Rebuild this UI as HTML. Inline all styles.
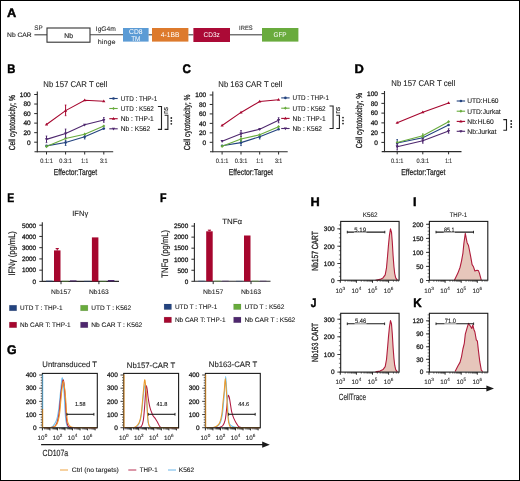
<!DOCTYPE html>
<html><head><meta charset="utf-8"><style>
html,body{margin:0;padding:0;background:#fff;}
#fig{position:relative;width:520px;height:481px;overflow:hidden;background:#fff;}
#fig svg{position:absolute;left:0;top:0;will-change:transform;filter:blur(0.3px);}
#frame{position:absolute;left:0;top:0;width:518px;height:479px;border:1px solid #000;}
text{font-family:"Liberation Sans", sans-serif;text-rendering:geometricPrecision;}
</style></head><body><div id="fig">
<svg width="520" height="481" viewBox="0 0 520 481" font-family='"Liberation Sans", sans-serif'>
<text transform="translate(6.91,16.70) scale(1.03,1)" x="0" y="0" font-size="12.4" font-weight="bold" fill="#000" stroke="#000" stroke-width="0.45">A</text>
<text x="7.1" y="37.1" font-size="6.5" text-anchor="start" fill="#262626" stroke="#262626" stroke-width="0.12" textLength="24.6" lengthAdjust="spacingAndGlyphs">Nb CAR</text>
<line x1="34.4" y1="34.8" x2="47" y2="34.8" stroke="#444" stroke-width="1.1"/>
<rect x="47" y="28" width="43" height="14.2" fill="#fff" stroke="#333" stroke-width="1.1"/>
<text x="68.6" y="37.5" font-size="6.9" text-anchor="middle" fill="#222" stroke="#222" stroke-width="0.15" textLength="8.6" lengthAdjust="spacingAndGlyphs">Nb</text>
<text x="34.2" y="30.4" font-size="6.6" text-anchor="start" fill="#2a2a2a" stroke="#2a2a2a" stroke-width="0.08" textLength="8.4" lengthAdjust="spacingAndGlyphs">SP</text>
<line x1="90" y1="34.8" x2="123" y2="34.8" stroke="#444" stroke-width="1.1"/>
<text x="95.8" y="30.5" font-size="6.6" text-anchor="start" fill="#2a2a2a" stroke="#2a2a2a" stroke-width="0.08" textLength="20" lengthAdjust="spacingAndGlyphs">IgG4m</text>
<text x="97.8" y="43.6" font-size="6.6" text-anchor="start" fill="#2a2a2a" stroke="#2a2a2a" stroke-width="0.08" textLength="17.6" lengthAdjust="spacingAndGlyphs">hinge</text>
<rect x="123" y="28" width="25.6" height="13.6" fill="#5b9bd5"/>
<text x="135.8" y="33.6" font-size="7.1" text-anchor="middle" fill="#fff" textLength="13.4" lengthAdjust="spacingAndGlyphs">CD8</text>
<text x="135.8" y="40.5" font-size="7.1" text-anchor="middle" fill="#fff" textLength="9.2" lengthAdjust="spacingAndGlyphs">TM</text>
<line x1="148.6" y1="34.8" x2="152" y2="34.8" stroke="#444" stroke-width="1.1"/>
<rect x="152" y="28" width="36.4" height="13.6" fill="#dd7a2c"/>
<text x="170.1" y="37.3" font-size="6.9" text-anchor="middle" fill="#fff" textLength="18.6" lengthAdjust="spacingAndGlyphs">4-1BB</text>
<line x1="188.4" y1="34.8" x2="193.4" y2="34.8" stroke="#444" stroke-width="1.1"/>
<rect x="193.4" y="28" width="36.6" height="14" fill="#ab0a36"/>
<text x="211.7" y="37.3" font-size="6.9" text-anchor="middle" fill="#fff" textLength="16.2" lengthAdjust="spacingAndGlyphs">CD3z</text>
<line x1="230" y1="34.8" x2="262" y2="34.8" stroke="#444" stroke-width="1.1"/>
<text x="239.1" y="30.4" font-size="6.3" text-anchor="start" fill="#2a2a2a" stroke="#2a2a2a" stroke-width="0.08" textLength="13.6" lengthAdjust="spacingAndGlyphs">IRES</text>
<rect x="262" y="28" width="36.4" height="13.6" fill="#69ab3d"/>
<text x="280" y="37.3" font-size="6.9" text-anchor="middle" fill="#fff" textLength="13.2" lengthAdjust="spacingAndGlyphs">GFP</text>
<text transform="translate(7.29,72.70) scale(0.91,1)" x="0" y="0" font-size="12.4" font-weight="bold" fill="#000" stroke="#000" stroke-width="0.45">B</text>
<text transform="translate(182.56,72.60) scale(0.94,1)" x="0" y="0" font-size="12.4" font-weight="bold" fill="#000" stroke="#000" stroke-width="0.45">C</text>
<text transform="translate(354.49,72.50) scale(1.04,1)" x="0" y="0" font-size="12.4" font-weight="bold" fill="#000" stroke="#000" stroke-width="0.45">D</text>
<text x="43.3" y="87" font-size="8.4" text-anchor="start" fill="#1a1a1a" stroke="#1a1a1a" stroke-width="0.1" textLength="64" lengthAdjust="spacingAndGlyphs">Nb 157 CAR T cell</text>
<line x1="37.3" y1="91.5" x2="37.3" y2="152.3" stroke="#2a2a2a" stroke-width="1.1"/>
<line x1="34.5" y1="151.8" x2="113.2" y2="151.8" stroke="#2a2a2a" stroke-width="1.1"/>
<line x1="34.2" y1="142.2" x2="37.3" y2="142.2" stroke="#2a2a2a" stroke-width="1"/>
<text x="30.7" y="144.5" font-size="6.5" text-anchor="end" fill="#1e1e1e" stroke="#1e1e1e" stroke-width="0.3">0</text>
<line x1="34.2" y1="132.66" x2="37.3" y2="132.66" stroke="#2a2a2a" stroke-width="1"/>
<text x="30.7" y="134.96" font-size="6.5" text-anchor="end" fill="#1e1e1e" stroke="#1e1e1e" stroke-width="0.3">20</text>
<line x1="34.2" y1="123.12" x2="37.3" y2="123.12" stroke="#2a2a2a" stroke-width="1"/>
<text x="30.7" y="125.42" font-size="6.5" text-anchor="end" fill="#1e1e1e" stroke="#1e1e1e" stroke-width="0.3">40</text>
<line x1="34.2" y1="113.58" x2="37.3" y2="113.58" stroke="#2a2a2a" stroke-width="1"/>
<text x="30.7" y="115.88" font-size="6.5" text-anchor="end" fill="#1e1e1e" stroke="#1e1e1e" stroke-width="0.3">60</text>
<line x1="34.2" y1="104.04" x2="37.3" y2="104.04" stroke="#2a2a2a" stroke-width="1"/>
<text x="30.7" y="106.34" font-size="6.5" text-anchor="end" fill="#1e1e1e" stroke="#1e1e1e" stroke-width="0.3">80</text>
<line x1="34.2" y1="94.5" x2="37.3" y2="94.5" stroke="#2a2a2a" stroke-width="1"/>
<text x="30.7" y="96.8" font-size="6.5" text-anchor="end" fill="#1e1e1e" stroke="#1e1e1e" stroke-width="0.3">100</text>
<line x1="46.5" y1="151.8" x2="46.5" y2="154.5" stroke="#2a2a2a" stroke-width="1"/>
<text x="46.5" y="162.7" font-size="6.5" text-anchor="middle" fill="#2a2a2a" stroke="#2a2a2a" stroke-width="0.12" textLength="12.6" lengthAdjust="spacingAndGlyphs">0.1:1</text>
<line x1="65.6" y1="151.8" x2="65.6" y2="154.5" stroke="#2a2a2a" stroke-width="1"/>
<text x="65.6" y="162.7" font-size="6.5" text-anchor="middle" fill="#2a2a2a" stroke="#2a2a2a" stroke-width="0.12" textLength="12.6" lengthAdjust="spacingAndGlyphs">0.3:1</text>
<line x1="84.7" y1="151.8" x2="84.7" y2="154.5" stroke="#2a2a2a" stroke-width="1"/>
<text x="84.7" y="162.7" font-size="6.5" text-anchor="middle" fill="#2a2a2a" stroke="#2a2a2a" stroke-width="0.12" textLength="6.9" lengthAdjust="spacingAndGlyphs">1:1</text>
<line x1="103.8" y1="151.8" x2="103.8" y2="154.5" stroke="#2a2a2a" stroke-width="1"/>
<text x="103.8" y="162.7" font-size="6.5" text-anchor="middle" fill="#2a2a2a" stroke="#2a2a2a" stroke-width="0.12" textLength="7.4" lengthAdjust="spacingAndGlyphs">3:1</text>
<text transform="translate(14.6,122.75) rotate(-90)" x="0" y="0" font-size="8.7" text-anchor="middle" fill="#1e1e1e" stroke="#1e1e1e" stroke-width="0.3" textLength="55.1" lengthAdjust="spacingAndGlyphs">Cell cytotoxicity; %</text>
<text x="75.5" y="174.9" font-size="8.6" text-anchor="middle" fill="#222" stroke="#222" stroke-width="0.25" textLength="43.4" lengthAdjust="spacingAndGlyphs">Effector:Target</text>
<polyline points="46.5,145.9 65.6,142.5 84.7,136.8 103.8,128.6" fill="none" stroke="#23437f" stroke-width="1.1"/>
<line x1="65.6" y1="140.5" x2="65.6" y2="145.5" stroke="#23437f" stroke-width="1"/>
<line x1="64.8" y1="140.5" x2="66.4" y2="140.5" stroke="#23437f" stroke-width="0.8"/>
<line x1="64.8" y1="145.5" x2="66.4" y2="145.5" stroke="#23437f" stroke-width="0.8"/>
<line x1="84.7" y1="134.6" x2="84.7" y2="139" stroke="#23437f" stroke-width="1"/>
<line x1="83.9" y1="134.6" x2="85.5" y2="134.6" stroke="#23437f" stroke-width="0.8"/>
<line x1="83.9" y1="139" x2="85.5" y2="139" stroke="#23437f" stroke-width="0.8"/>
<circle cx="46.5" cy="145.9" r="1.3" fill="#23437f"/>
<circle cx="65.6" cy="142.5" r="1.3" fill="#23437f"/>
<circle cx="84.7" cy="136.8" r="1.3" fill="#23437f"/>
<circle cx="103.8" cy="128.6" r="1.3" fill="#23437f"/>
<polyline points="46.5,146.6 65.6,138.5 84.7,134.2 103.8,126" fill="none" stroke="#68ab3c" stroke-width="1.1"/>
<path d="M46.5 145.0L48.0 146.6L46.5 148.2L45.0 146.6Z" fill="#68ab3c"/>
<path d="M65.6 136.9L67.1 138.5L65.6 140.1L64.1 138.5Z" fill="#68ab3c"/>
<path d="M84.7 132.6L86.2 134.2L84.7 135.8L83.2 134.2Z" fill="#68ab3c"/>
<path d="M103.8 124.4L105.3 126L103.8 127.6L102.3 126Z" fill="#68ab3c"/>
<polyline points="46.5,124.5 65.6,110.6 84.7,100.2 103.8,101.2" fill="none" stroke="#a6062e" stroke-width="1.1"/>
<line x1="65.6" y1="105" x2="65.6" y2="115.7" stroke="#a6062e" stroke-width="1"/>
<line x1="64.8" y1="105" x2="66.4" y2="105" stroke="#a6062e" stroke-width="0.8"/>
<line x1="64.8" y1="115.7" x2="66.4" y2="115.7" stroke="#a6062e" stroke-width="0.8"/>
<path d="M46.5 122.8L48.1 125.6L44.9 125.6Z" fill="#a6062e"/>
<path d="M65.6 108.9L67.2 111.7L64 111.7Z" fill="#a6062e"/>
<path d="M84.7 98.5L86.3 101.3L83.1 101.3Z" fill="#a6062e"/>
<path d="M103.8 99.5L105.4 102.3L102.2 102.3Z" fill="#a6062e"/>
<polyline points="46.5,139.4 65.6,133.5 84.7,124.8 103.8,120" fill="none" stroke="#4e276e" stroke-width="1.1"/>
<line x1="46.5" y1="136" x2="46.5" y2="142.6" stroke="#4e276e" stroke-width="1"/>
<line x1="45.7" y1="136" x2="47.3" y2="136" stroke="#4e276e" stroke-width="0.8"/>
<line x1="45.7" y1="142.6" x2="47.3" y2="142.6" stroke="#4e276e" stroke-width="0.8"/>
<line x1="65.6" y1="129" x2="65.6" y2="137.4" stroke="#4e276e" stroke-width="1"/>
<line x1="64.8" y1="129" x2="66.4" y2="129" stroke="#4e276e" stroke-width="0.8"/>
<line x1="64.8" y1="137.4" x2="66.4" y2="137.4" stroke="#4e276e" stroke-width="0.8"/>
<line x1="103.8" y1="117.5" x2="103.8" y2="122.3" stroke="#4e276e" stroke-width="1"/>
<line x1="103.0" y1="117.5" x2="104.6" y2="117.5" stroke="#4e276e" stroke-width="0.8"/>
<line x1="103.0" y1="122.3" x2="104.6" y2="122.3" stroke="#4e276e" stroke-width="0.8"/>
<path d="M46.5 141.1L48.1 138.3L44.9 138.3Z" fill="#4e276e"/>
<path d="M65.6 135.2L67.2 132.4L64 132.4Z" fill="#4e276e"/>
<path d="M84.7 126.5L86.3 123.7L83.1 123.7Z" fill="#4e276e"/>
<path d="M103.8 121.7L105.4 118.9L102.2 118.9Z" fill="#4e276e"/>
<line x1="109.3" y1="98.5" x2="117.7" y2="98.5" stroke="#23437f" stroke-width="1.1"/>
<circle cx="113.5" cy="98.5" r="1.3" fill="#23437f"/>
<text x="120.8" y="100.8" font-size="6.9" text-anchor="start" fill="#1a1a1a" stroke="#1a1a1a" stroke-width="0.1" textLength="36.4" lengthAdjust="spacingAndGlyphs">UTD : THP-1</text>
<line x1="109.3" y1="108.5" x2="117.7" y2="108.5" stroke="#68ab3c" stroke-width="1.1"/>
<path d="M113.5 106.9L115.0 108.5L113.5 110.1L112.0 108.5Z" fill="#68ab3c"/>
<text x="120.8" y="110.8" font-size="6.9" text-anchor="start" fill="#1a1a1a" stroke="#1a1a1a" stroke-width="0.1" textLength="33" lengthAdjust="spacingAndGlyphs">UTD : K562</text>
<line x1="109.3" y1="118.7" x2="117.7" y2="118.7" stroke="#a6062e" stroke-width="1.1"/>
<path d="M113.5 117.0L115.1 119.8L111.9 119.8Z" fill="#a6062e"/>
<text x="120.8" y="121.0" font-size="6.9" text-anchor="start" fill="#1a1a1a" stroke="#1a1a1a" stroke-width="0.1" textLength="33" lengthAdjust="spacingAndGlyphs">Nb : THP-1</text>
<line x1="109.3" y1="128.8" x2="117.7" y2="128.8" stroke="#4e276e" stroke-width="1.1"/>
<path d="M113.5 130.5L115.1 127.7L111.9 127.7Z" fill="#4e276e"/>
<text x="120.8" y="131.1" font-size="6.9" text-anchor="start" fill="#1a1a1a" stroke="#1a1a1a" stroke-width="0.1" textLength="29.4" lengthAdjust="spacingAndGlyphs">Nb : K562</text>
<path d="M157.9 106.5H161.5V129.4H157.9" fill="none" stroke="#222" stroke-width="1.1"/>
<path d="M164.6 115.3H167.9V129.4H164.6" fill="none" stroke="#222" stroke-width="1.1"/>
<text transform="translate(168.1,110.4) rotate(-90)" x="0" y="0" font-size="7.4" text-anchor="middle" fill="#2a2a2a" stroke="#2a2a2a" stroke-width="0.15" textLength="6.6" lengthAdjust="spacingAndGlyphs">ns</text>
<circle cx="171.3" cy="118.0" r="0.9" fill="#222"/>
<circle cx="171.3" cy="120.9" r="0.9" fill="#222"/>
<circle cx="171.3" cy="123.8" r="0.9" fill="#222"/>
<text x="218.3" y="87.4" font-size="8.4" text-anchor="start" fill="#1a1a1a" stroke="#1a1a1a" stroke-width="0.1" textLength="64" lengthAdjust="spacingAndGlyphs">Nb 163 CAR T cell</text>
<line x1="212.8" y1="91.5" x2="212.8" y2="152.3" stroke="#2a2a2a" stroke-width="1.1"/>
<line x1="210.0" y1="151.8" x2="287.7" y2="151.8" stroke="#2a2a2a" stroke-width="1.1"/>
<line x1="209.7" y1="142.3" x2="212.8" y2="142.3" stroke="#2a2a2a" stroke-width="1"/>
<text x="206.2" y="144.6" font-size="6.5" text-anchor="end" fill="#1e1e1e" stroke="#1e1e1e" stroke-width="0.3">0</text>
<line x1="209.7" y1="132.84" x2="212.8" y2="132.84" stroke="#2a2a2a" stroke-width="1"/>
<text x="206.2" y="135.14" font-size="6.5" text-anchor="end" fill="#1e1e1e" stroke="#1e1e1e" stroke-width="0.3">20</text>
<line x1="209.7" y1="123.38" x2="212.8" y2="123.38" stroke="#2a2a2a" stroke-width="1"/>
<text x="206.2" y="125.68" font-size="6.5" text-anchor="end" fill="#1e1e1e" stroke="#1e1e1e" stroke-width="0.3">40</text>
<line x1="209.7" y1="113.92" x2="212.8" y2="113.92" stroke="#2a2a2a" stroke-width="1"/>
<text x="206.2" y="116.22" font-size="6.5" text-anchor="end" fill="#1e1e1e" stroke="#1e1e1e" stroke-width="0.3">60</text>
<line x1="209.7" y1="104.46" x2="212.8" y2="104.46" stroke="#2a2a2a" stroke-width="1"/>
<text x="206.2" y="106.76" font-size="6.5" text-anchor="end" fill="#1e1e1e" stroke="#1e1e1e" stroke-width="0.3">80</text>
<line x1="209.7" y1="95.0" x2="212.8" y2="95.0" stroke="#2a2a2a" stroke-width="1"/>
<text x="206.2" y="97.3" font-size="6.5" text-anchor="end" fill="#1e1e1e" stroke="#1e1e1e" stroke-width="0.3">100</text>
<line x1="222.1" y1="151.8" x2="222.1" y2="154.5" stroke="#2a2a2a" stroke-width="1"/>
<text x="222.1" y="162.7" font-size="6.5" text-anchor="middle" fill="#2a2a2a" stroke="#2a2a2a" stroke-width="0.12" textLength="12.6" lengthAdjust="spacingAndGlyphs">0.1:1</text>
<line x1="241.0" y1="151.8" x2="241.0" y2="154.5" stroke="#2a2a2a" stroke-width="1"/>
<text x="241.0" y="162.7" font-size="6.5" text-anchor="middle" fill="#2a2a2a" stroke="#2a2a2a" stroke-width="0.12" textLength="12.6" lengthAdjust="spacingAndGlyphs">0.3:1</text>
<line x1="259.7" y1="151.8" x2="259.7" y2="154.5" stroke="#2a2a2a" stroke-width="1"/>
<text x="259.7" y="162.7" font-size="6.5" text-anchor="middle" fill="#2a2a2a" stroke="#2a2a2a" stroke-width="0.12" textLength="6.9" lengthAdjust="spacingAndGlyphs">1:1</text>
<line x1="278.6" y1="151.8" x2="278.6" y2="154.5" stroke="#2a2a2a" stroke-width="1"/>
<text x="278.6" y="162.7" font-size="6.5" text-anchor="middle" fill="#2a2a2a" stroke="#2a2a2a" stroke-width="0.12" textLength="7.4" lengthAdjust="spacingAndGlyphs">3:1</text>
<text transform="translate(190.2,122.4) rotate(-90)" x="0" y="0" font-size="8.7" text-anchor="middle" fill="#1e1e1e" stroke="#1e1e1e" stroke-width="0.3" textLength="55.8" lengthAdjust="spacingAndGlyphs">Cell cytotoxicity; %</text>
<text x="250.85" y="175.2" font-size="8.6" text-anchor="middle" fill="#222" stroke="#222" stroke-width="0.25" textLength="44.1" lengthAdjust="spacingAndGlyphs">Effector:Target</text>
<polyline points="222.1,145.7 241.0,142.6 259.7,136.7 278.6,129.2" fill="none" stroke="#23437f" stroke-width="1.1"/>
<line x1="241.0" y1="140.5" x2="241.0" y2="145.6" stroke="#23437f" stroke-width="1"/>
<line x1="240.2" y1="140.5" x2="241.8" y2="140.5" stroke="#23437f" stroke-width="0.8"/>
<line x1="240.2" y1="145.6" x2="241.8" y2="145.6" stroke="#23437f" stroke-width="0.8"/>
<line x1="259.7" y1="134.5" x2="259.7" y2="139" stroke="#23437f" stroke-width="1"/>
<line x1="258.9" y1="134.5" x2="260.5" y2="134.5" stroke="#23437f" stroke-width="0.8"/>
<line x1="258.9" y1="139" x2="260.5" y2="139" stroke="#23437f" stroke-width="0.8"/>
<circle cx="222.1" cy="145.7" r="1.3" fill="#23437f"/>
<circle cx="241.0" cy="142.6" r="1.3" fill="#23437f"/>
<circle cx="259.7" cy="136.7" r="1.3" fill="#23437f"/>
<circle cx="278.6" cy="129.2" r="1.3" fill="#23437f"/>
<polyline points="222.1,146.3 241.0,139 259.7,134.8 278.6,126.7" fill="none" stroke="#68ab3c" stroke-width="1.1"/>
<line x1="241.0" y1="136.6" x2="241.0" y2="141.4" stroke="#68ab3c" stroke-width="1"/>
<line x1="240.2" y1="136.6" x2="241.8" y2="136.6" stroke="#68ab3c" stroke-width="0.8"/>
<line x1="240.2" y1="141.4" x2="241.8" y2="141.4" stroke="#68ab3c" stroke-width="0.8"/>
<path d="M222.1 144.7L223.6 146.3L222.1 147.9L220.6 146.3Z" fill="#68ab3c"/>
<path d="M241.0 137.4L242.5 139L241.0 140.6L239.5 139Z" fill="#68ab3c"/>
<path d="M259.7 133.2L261.2 134.8L259.7 136.4L258.2 134.8Z" fill="#68ab3c"/>
<path d="M278.6 125.1L280.1 126.7L278.6 128.3L277.1 126.7Z" fill="#68ab3c"/>
<polyline points="222.1,125.5 241.0,112.4 259.7,101.5 278.6,99.7" fill="none" stroke="#a6062e" stroke-width="1.1"/>
<path d="M222.1 123.8L223.7 126.6L220.5 126.6Z" fill="#a6062e"/>
<path d="M241.0 110.7L242.6 113.5L239.4 113.5Z" fill="#a6062e"/>
<path d="M259.7 99.8L261.3 102.6L258.1 102.6Z" fill="#a6062e"/>
<path d="M278.6 98.0L280.2 100.8L277.0 100.8Z" fill="#a6062e"/>
<polyline points="222.1,141.2 241.0,133.7 259.7,129.2 278.6,120.2" fill="none" stroke="#4e276e" stroke-width="1.1"/>
<line x1="241.0" y1="130.5" x2="241.0" y2="136.5" stroke="#4e276e" stroke-width="1"/>
<line x1="240.2" y1="130.5" x2="241.8" y2="130.5" stroke="#4e276e" stroke-width="0.8"/>
<line x1="240.2" y1="136.5" x2="241.8" y2="136.5" stroke="#4e276e" stroke-width="0.8"/>
<line x1="278.6" y1="117.7" x2="278.6" y2="122.8" stroke="#4e276e" stroke-width="1"/>
<line x1="277.8" y1="117.7" x2="279.4" y2="117.7" stroke="#4e276e" stroke-width="0.8"/>
<line x1="277.8" y1="122.8" x2="279.4" y2="122.8" stroke="#4e276e" stroke-width="0.8"/>
<path d="M222.1 142.9L223.7 140.1L220.5 140.1Z" fill="#4e276e"/>
<path d="M241.0 135.4L242.6 132.6L239.4 132.6Z" fill="#4e276e"/>
<path d="M259.7 130.9L261.3 128.1L258.1 128.1Z" fill="#4e276e"/>
<path d="M278.6 121.9L280.2 119.1L277.0 119.1Z" fill="#4e276e"/>
<line x1="281.2" y1="97.9" x2="289.6" y2="97.9" stroke="#23437f" stroke-width="1.1"/>
<circle cx="285.4" cy="97.9" r="1.3" fill="#23437f"/>
<text x="292.6" y="100.2" font-size="6.9" text-anchor="start" fill="#1a1a1a" stroke="#1a1a1a" stroke-width="0.1" textLength="36.4" lengthAdjust="spacingAndGlyphs">UTD : THP-1</text>
<line x1="281.2" y1="108.2" x2="289.6" y2="108.2" stroke="#68ab3c" stroke-width="1.1"/>
<path d="M285.4 106.6L286.9 108.2L285.4 109.8L283.9 108.2Z" fill="#68ab3c"/>
<text x="292.6" y="110.5" font-size="6.9" text-anchor="start" fill="#1a1a1a" stroke="#1a1a1a" stroke-width="0.1" textLength="33" lengthAdjust="spacingAndGlyphs">UTD : K562</text>
<line x1="281.2" y1="118.4" x2="289.6" y2="118.4" stroke="#a6062e" stroke-width="1.1"/>
<path d="M285.4 116.7L287.0 119.5L283.8 119.5Z" fill="#a6062e"/>
<text x="292.6" y="120.7" font-size="6.9" text-anchor="start" fill="#1a1a1a" stroke="#1a1a1a" stroke-width="0.1" textLength="33" lengthAdjust="spacingAndGlyphs">Nb : THP-1</text>
<line x1="281.2" y1="128.5" x2="289.6" y2="128.5" stroke="#4e276e" stroke-width="1.1"/>
<path d="M285.4 130.2L287.0 127.4L283.8 127.4Z" fill="#4e276e"/>
<text x="292.6" y="130.8" font-size="6.9" text-anchor="start" fill="#1a1a1a" stroke="#1a1a1a" stroke-width="0.1" textLength="29.4" lengthAdjust="spacingAndGlyphs">Nb : K562</text>
<path d="M329.5 106H333.1V128.5H329.5" fill="none" stroke="#222" stroke-width="1.1"/>
<path d="M336.3 115.2H339.4V128.5H336.3" fill="none" stroke="#222" stroke-width="1.1"/>
<text transform="translate(339.6,110.2) rotate(-90)" x="0" y="0" font-size="7.4" text-anchor="middle" fill="#2a2a2a" stroke="#2a2a2a" stroke-width="0.15" textLength="6.6" lengthAdjust="spacingAndGlyphs">ns</text>
<circle cx="343" cy="117.6" r="0.9" fill="#222"/>
<circle cx="343" cy="120.6" r="0.9" fill="#222"/>
<circle cx="343" cy="123.6" r="0.9" fill="#222"/>
<text x="391.3" y="86.2" font-size="8.4" text-anchor="start" fill="#1a1a1a" stroke="#1a1a1a" stroke-width="0.1" textLength="64" lengthAdjust="spacingAndGlyphs">Nb 157 CAR T cell</text>
<line x1="384.5" y1="91.0" x2="384.5" y2="152.1" stroke="#2a2a2a" stroke-width="1.1"/>
<line x1="381.7" y1="151.6" x2="461.5" y2="151.6" stroke="#2a2a2a" stroke-width="1.1"/>
<line x1="381.4" y1="142.4" x2="384.5" y2="142.4" stroke="#2a2a2a" stroke-width="1"/>
<text x="377.9" y="144.7" font-size="6.5" text-anchor="end" fill="#1e1e1e" stroke="#1e1e1e" stroke-width="0.3">0</text>
<line x1="381.4" y1="132.64" x2="384.5" y2="132.64" stroke="#2a2a2a" stroke-width="1"/>
<text x="377.9" y="134.94" font-size="6.5" text-anchor="end" fill="#1e1e1e" stroke="#1e1e1e" stroke-width="0.3">20</text>
<line x1="381.4" y1="122.88" x2="384.5" y2="122.88" stroke="#2a2a2a" stroke-width="1"/>
<text x="377.9" y="125.18" font-size="6.5" text-anchor="end" fill="#1e1e1e" stroke="#1e1e1e" stroke-width="0.3">40</text>
<line x1="381.4" y1="113.12" x2="384.5" y2="113.12" stroke="#2a2a2a" stroke-width="1"/>
<text x="377.9" y="115.42" font-size="6.5" text-anchor="end" fill="#1e1e1e" stroke="#1e1e1e" stroke-width="0.3">60</text>
<line x1="381.4" y1="103.36" x2="384.5" y2="103.36" stroke="#2a2a2a" stroke-width="1"/>
<text x="377.9" y="105.66" font-size="6.5" text-anchor="end" fill="#1e1e1e" stroke="#1e1e1e" stroke-width="0.3">80</text>
<line x1="381.4" y1="93.6" x2="384.5" y2="93.6" stroke="#2a2a2a" stroke-width="1"/>
<text x="377.9" y="95.9" font-size="6.5" text-anchor="end" fill="#1e1e1e" stroke="#1e1e1e" stroke-width="0.3">100</text>
<line x1="397.2" y1="151.6" x2="397.2" y2="154.3" stroke="#2a2a2a" stroke-width="1"/>
<text x="397.2" y="162.5" font-size="6.5" text-anchor="middle" fill="#2a2a2a" stroke="#2a2a2a" stroke-width="0.12" textLength="12.6" lengthAdjust="spacingAndGlyphs">0.1:1</text>
<line x1="422.8" y1="151.6" x2="422.8" y2="154.3" stroke="#2a2a2a" stroke-width="1"/>
<text x="422.8" y="162.5" font-size="6.5" text-anchor="middle" fill="#2a2a2a" stroke="#2a2a2a" stroke-width="0.12" textLength="12.6" lengthAdjust="spacingAndGlyphs">0.3:1</text>
<line x1="448.6" y1="151.6" x2="448.6" y2="154.3" stroke="#2a2a2a" stroke-width="1"/>
<text x="448.6" y="162.5" font-size="6.5" text-anchor="middle" fill="#2a2a2a" stroke="#2a2a2a" stroke-width="0.12" textLength="6.9" lengthAdjust="spacingAndGlyphs">1:1</text>
<text transform="translate(361.9,120.6) rotate(-90)" x="0" y="0" font-size="8.7" text-anchor="middle" fill="#1e1e1e" stroke="#1e1e1e" stroke-width="0.3" textLength="55.4" lengthAdjust="spacingAndGlyphs">Cell cytotoxicity; %</text>
<text x="423.35" y="175.2" font-size="8.6" text-anchor="middle" fill="#222" stroke="#222" stroke-width="0.25" textLength="44.1" lengthAdjust="spacingAndGlyphs">Effector:Target</text>
<polyline points="397.2,143 422.8,137.7 448.6,125" fill="none" stroke="#23437f" stroke-width="1.1"/>
<line x1="397.2" y1="139.5" x2="397.2" y2="146" stroke="#23437f" stroke-width="1"/>
<line x1="396.4" y1="139.5" x2="398.0" y2="139.5" stroke="#23437f" stroke-width="0.8"/>
<line x1="396.4" y1="146" x2="398.0" y2="146" stroke="#23437f" stroke-width="0.8"/>
<circle cx="397.2" cy="143" r="1.3" fill="#23437f"/>
<circle cx="422.8" cy="137.7" r="1.3" fill="#23437f"/>
<circle cx="448.6" cy="125" r="1.3" fill="#23437f"/>
<polyline points="397.2,142.5 422.8,135.8 448.6,121.7" fill="none" stroke="#68ab3c" stroke-width="1.1"/>
<line x1="422.8" y1="133.8" x2="422.8" y2="137.8" stroke="#68ab3c" stroke-width="1"/>
<line x1="422.0" y1="133.8" x2="423.6" y2="133.8" stroke="#68ab3c" stroke-width="0.8"/>
<line x1="422.0" y1="137.8" x2="423.6" y2="137.8" stroke="#68ab3c" stroke-width="0.8"/>
<path d="M397.2 140.9L398.7 142.5L397.2 144.1L395.7 142.5Z" fill="#68ab3c"/>
<path d="M422.8 134.2L424.3 135.8L422.8 137.4L421.3 135.8Z" fill="#68ab3c"/>
<path d="M448.6 120.1L450.1 121.7L448.6 123.3L447.1 121.7Z" fill="#68ab3c"/>
<polyline points="397.2,122.7 422.8,112.2 448.6,103" fill="none" stroke="#a6062e" stroke-width="1.1"/>
<path d="M397.2 121.0L398.8 123.8L395.6 123.8Z" fill="#a6062e"/>
<path d="M422.8 110.5L424.4 113.3L421.2 113.3Z" fill="#a6062e"/>
<path d="M448.6 101.3L450.2 104.1L447.0 104.1Z" fill="#a6062e"/>
<polyline points="397.2,146.7 422.8,140.7 448.6,131" fill="none" stroke="#4e276e" stroke-width="1.1"/>
<line x1="397.2" y1="143.5" x2="397.2" y2="150" stroke="#4e276e" stroke-width="1"/>
<line x1="396.4" y1="143.5" x2="398.0" y2="143.5" stroke="#4e276e" stroke-width="0.8"/>
<line x1="396.4" y1="150" x2="398.0" y2="150" stroke="#4e276e" stroke-width="0.8"/>
<line x1="422.8" y1="138.5" x2="422.8" y2="143.2" stroke="#4e276e" stroke-width="1"/>
<line x1="422.0" y1="138.5" x2="423.6" y2="138.5" stroke="#4e276e" stroke-width="0.8"/>
<line x1="422.0" y1="143.2" x2="423.6" y2="143.2" stroke="#4e276e" stroke-width="0.8"/>
<line x1="448.6" y1="128.7" x2="448.6" y2="133.2" stroke="#4e276e" stroke-width="1"/>
<line x1="447.8" y1="128.7" x2="449.4" y2="128.7" stroke="#4e276e" stroke-width="0.8"/>
<line x1="447.8" y1="133.2" x2="449.4" y2="133.2" stroke="#4e276e" stroke-width="0.8"/>
<path d="M397.2 148.4L398.8 145.6L395.6 145.6Z" fill="#4e276e"/>
<path d="M422.8 142.4L424.4 139.6L421.2 139.6Z" fill="#4e276e"/>
<path d="M448.6 132.7L450.2 129.9L447.0 129.9Z" fill="#4e276e"/>
<line x1="456.7" y1="101" x2="465.1" y2="101" stroke="#23437f" stroke-width="1.1"/>
<circle cx="460.9" cy="101" r="1.3" fill="#23437f"/>
<text x="467.3" y="103.3" font-size="6.9" text-anchor="start" fill="#1a1a1a" stroke="#1a1a1a" stroke-width="0.1" textLength="31.2" lengthAdjust="spacingAndGlyphs">UTD:HL60</text>
<line x1="456.7" y1="111.2" x2="465.1" y2="111.2" stroke="#68ab3c" stroke-width="1.1"/>
<path d="M460.9 109.6L462.4 111.2L460.9 112.8L459.4 111.2Z" fill="#68ab3c"/>
<text x="467.3" y="113.5" font-size="6.9" text-anchor="start" fill="#1a1a1a" stroke="#1a1a1a" stroke-width="0.1" textLength="33.4" lengthAdjust="spacingAndGlyphs">UTD:Jurkat</text>
<line x1="456.7" y1="121.4" x2="465.1" y2="121.4" stroke="#a6062e" stroke-width="1.1"/>
<path d="M460.9 119.7L462.5 122.5L459.3 122.5Z" fill="#a6062e"/>
<text x="467.3" y="123.7" font-size="6.9" text-anchor="start" fill="#1a1a1a" stroke="#1a1a1a" stroke-width="0.1" textLength="26.4" lengthAdjust="spacingAndGlyphs">Nb:HL60</text>
<line x1="456.7" y1="131.3" x2="465.1" y2="131.3" stroke="#4e276e" stroke-width="1.1"/>
<path d="M460.9 133.0L462.5 130.2L459.3 130.2Z" fill="#4e276e"/>
<text x="467.3" y="133.6" font-size="6.9" text-anchor="start" fill="#1a1a1a" stroke="#1a1a1a" stroke-width="0.1" textLength="29.2" lengthAdjust="spacingAndGlyphs">Nb:Jurkat</text>
<path d="M503.3 119.6H506.5V130.2H503.3" fill="none" stroke="#222" stroke-width="1.1"/>
<circle cx="511.2" cy="121.0" r="0.9" fill="#222"/>
<circle cx="511.2" cy="124.0" r="0.9" fill="#222"/>
<circle cx="511.2" cy="127.0" r="0.9" fill="#222"/>
<text transform="translate(7.34,202.10) scale(0.84,1)" x="0" y="0" font-size="12.4" font-weight="bold" fill="#000" stroke="#000" stroke-width="0.45">E</text>
<text transform="translate(159.93,202.10) scale(0.86,1)" x="0" y="0" font-size="12.4" font-weight="bold" fill="#000" stroke="#000" stroke-width="0.45">F</text>
<text x="80.2" y="215.7" font-size="7.6" text-anchor="middle" fill="#1a1a1a" stroke="#1a1a1a" stroke-width="0.1" textLength="15.9" lengthAdjust="spacingAndGlyphs">IFNγ</text>
<line x1="42.3" y1="222.2" x2="42.3" y2="281.9" stroke="#2a2a2a" stroke-width="1.1"/>
<line x1="42.3" y1="281.4" x2="119" y2="281.4" stroke="#2a2a2a" stroke-width="1.1"/>
<line x1="39.3" y1="281.4" x2="42.3" y2="281.4" stroke="#2a2a2a" stroke-width="1"/>
<text x="36.1" y="283.7" font-size="6.4" text-anchor="end" fill="#1e1e1e" stroke="#1e1e1e" stroke-width="0.28">0</text>
<line x1="39.3" y1="270.16" x2="42.3" y2="270.16" stroke="#2a2a2a" stroke-width="1"/>
<text x="36.1" y="272.46" font-size="6.4" text-anchor="end" fill="#1e1e1e" stroke="#1e1e1e" stroke-width="0.28">1000</text>
<line x1="39.3" y1="258.92" x2="42.3" y2="258.92" stroke="#2a2a2a" stroke-width="1"/>
<text x="36.1" y="261.22" font-size="6.4" text-anchor="end" fill="#1e1e1e" stroke="#1e1e1e" stroke-width="0.28">2000</text>
<line x1="39.3" y1="247.68" x2="42.3" y2="247.68" stroke="#2a2a2a" stroke-width="1"/>
<text x="36.1" y="249.98" font-size="6.4" text-anchor="end" fill="#1e1e1e" stroke="#1e1e1e" stroke-width="0.28">3000</text>
<line x1="39.3" y1="236.44" x2="42.3" y2="236.44" stroke="#2a2a2a" stroke-width="1"/>
<text x="36.1" y="238.74" font-size="6.4" text-anchor="end" fill="#1e1e1e" stroke="#1e1e1e" stroke-width="0.28">4000</text>
<line x1="39.3" y1="225.2" x2="42.3" y2="225.2" stroke="#2a2a2a" stroke-width="1"/>
<text x="36.1" y="227.5" font-size="6.4" text-anchor="end" fill="#1e1e1e" stroke="#1e1e1e" stroke-width="0.28">5000</text>
<line x1="61" y1="281.4" x2="61" y2="284.2" stroke="#2a2a2a" stroke-width="1"/>
<text x="61" y="293.6" font-size="6.6" text-anchor="middle" fill="#2a2a2a" stroke="#2a2a2a" stroke-width="0.1" textLength="19.8" lengthAdjust="spacingAndGlyphs">Nb157</text>
<rect x="46" y="280.7" width="6.5" height="0.7" fill="#23437f"/>
<rect x="54" y="250.4" width="6.5" height="31" fill="#a6062e"/>
<rect x="62" y="280.9" width="6.5" height="0.5" fill="#68ab3c"/>
<rect x="70" y="280.4" width="6.5" height="1.0" fill="#4e276e"/>
<line x1="57.25" y1="250.4" x2="57.25" y2="248.6" stroke="#a6062e" stroke-width="1.1"/>
<line x1="55.65" y1="248.6" x2="58.85" y2="248.6" stroke="#a6062e" stroke-width="1.1"/>
<line x1="98.9" y1="281.4" x2="98.9" y2="284.2" stroke="#2a2a2a" stroke-width="1"/>
<text x="98.9" y="293.6" font-size="6.6" text-anchor="middle" fill="#2a2a2a" stroke="#2a2a2a" stroke-width="0.1" textLength="19.8" lengthAdjust="spacingAndGlyphs">Nb163</text>
<rect x="83.9" y="280.9" width="6.5" height="0.5" fill="#23437f"/>
<rect x="91.9" y="237.4" width="6.5" height="44" fill="#a6062e"/>
<rect x="99.9" y="280.9" width="6.5" height="0.5" fill="#68ab3c"/>
<rect x="107.9" y="280.0" width="6.5" height="1.4" fill="#4e276e"/>
<text transform="translate(15.1,253.3) rotate(-90)" x="0" y="0" font-size="9.4" text-anchor="middle" fill="#222" stroke="#222" stroke-width="0.2" textLength="44.4" lengthAdjust="spacingAndGlyphs">IFNγ (pg/mL)</text>
<text x="232.2" y="224.4" font-size="7.6" text-anchor="middle" fill="#1a1a1a" stroke="#1a1a1a" stroke-width="0.1" textLength="19.9" lengthAdjust="spacingAndGlyphs">TNFα</text>
<line x1="194.4" y1="223.1" x2="194.4" y2="281.8" stroke="#2a2a2a" stroke-width="1.1"/>
<line x1="194.4" y1="281.3" x2="270.5" y2="281.3" stroke="#2a2a2a" stroke-width="1.1"/>
<line x1="191.4" y1="281.3" x2="194.4" y2="281.3" stroke="#2a2a2a" stroke-width="1"/>
<text x="188.2" y="283.6" font-size="6.4" text-anchor="end" fill="#1e1e1e" stroke="#1e1e1e" stroke-width="0.28">0</text>
<line x1="191.4" y1="270.26" x2="194.4" y2="270.26" stroke="#2a2a2a" stroke-width="1"/>
<text x="188.2" y="272.56" font-size="6.4" text-anchor="end" fill="#1e1e1e" stroke="#1e1e1e" stroke-width="0.28">500</text>
<line x1="191.4" y1="259.22" x2="194.4" y2="259.22" stroke="#2a2a2a" stroke-width="1"/>
<text x="188.2" y="261.52" font-size="6.4" text-anchor="end" fill="#1e1e1e" stroke="#1e1e1e" stroke-width="0.28">1000</text>
<line x1="191.4" y1="248.18" x2="194.4" y2="248.18" stroke="#2a2a2a" stroke-width="1"/>
<text x="188.2" y="250.48" font-size="6.4" text-anchor="end" fill="#1e1e1e" stroke="#1e1e1e" stroke-width="0.28">1500</text>
<line x1="191.4" y1="237.14" x2="194.4" y2="237.14" stroke="#2a2a2a" stroke-width="1"/>
<text x="188.2" y="239.44" font-size="6.4" text-anchor="end" fill="#1e1e1e" stroke="#1e1e1e" stroke-width="0.28">2000</text>
<line x1="191.4" y1="226.1" x2="194.4" y2="226.1" stroke="#2a2a2a" stroke-width="1"/>
<text x="188.2" y="228.4" font-size="6.4" text-anchor="end" fill="#1e1e1e" stroke="#1e1e1e" stroke-width="0.28">2500</text>
<line x1="213.2" y1="281.3" x2="213.2" y2="284.1" stroke="#2a2a2a" stroke-width="1"/>
<text x="213.2" y="293.5" font-size="6.6" text-anchor="middle" fill="#2a2a2a" stroke="#2a2a2a" stroke-width="0.1" textLength="20.2" lengthAdjust="spacingAndGlyphs">Nb157</text>
<rect x="198.2" y="280.8" width="6.5" height="0.5" fill="#23437f"/>
<rect x="206.2" y="231.3" width="6.5" height="50" fill="#a6062e"/>
<rect x="214.2" y="280.8" width="6.5" height="0.5" fill="#68ab3c"/>
<rect x="222.2" y="280.8" width="6.5" height="0.5" fill="#4e276e"/>
<line x1="209.45" y1="231.3" x2="209.45" y2="230.2" stroke="#a6062e" stroke-width="1.1"/>
<line x1="207.85" y1="230.2" x2="211.05" y2="230.2" stroke="#a6062e" stroke-width="1.1"/>
<line x1="251" y1="281.3" x2="251" y2="284.1" stroke="#2a2a2a" stroke-width="1"/>
<text x="251" y="293.5" font-size="6.6" text-anchor="middle" fill="#2a2a2a" stroke="#2a2a2a" stroke-width="0.1" textLength="20.2" lengthAdjust="spacingAndGlyphs">Nb163</text>
<rect x="236" y="280.9" width="6.5" height="0.4" fill="#23437f"/>
<rect x="244" y="235.5" width="6.5" height="45.8" fill="#a6062e"/>
<rect x="252" y="280.8" width="6.5" height="0.5" fill="#68ab3c"/>
<rect x="260" y="280.8" width="6.5" height="0.5" fill="#4e276e"/>
<text transform="translate(168,253.85) rotate(-90)" x="0" y="0" font-size="9.4" text-anchor="middle" fill="#222" stroke="#222" stroke-width="0.2" textLength="47.9" lengthAdjust="spacingAndGlyphs">TNFα (pg/mL)</text>
<rect x="9.3" y="305.2" width="7.4" height="5.6" fill="#23437f" stroke="#0002" stroke-width="0.6"/>
<text x="20.1" y="310.4" font-size="6.6" text-anchor="start" fill="#1a1a1a" stroke="#1a1a1a" stroke-width="0.1" textLength="42.4" lengthAdjust="spacingAndGlyphs">UTD T : THP-1</text>
<rect x="80.5" y="305.2" width="7.4" height="5.6" fill="#68ab3c" stroke="#0002" stroke-width="0.6"/>
<text x="91.3" y="310.4" font-size="6.6" text-anchor="start" fill="#1a1a1a" stroke="#1a1a1a" stroke-width="0.1" textLength="39.8" lengthAdjust="spacingAndGlyphs">UTD T : K562</text>
<rect x="9.3" y="322.1" width="7.4" height="5.6" fill="#a6062e" stroke="#0002" stroke-width="0.6"/>
<text x="20.1" y="327.3" font-size="6.6" text-anchor="start" fill="#1a1a1a" stroke="#1a1a1a" stroke-width="0.1" textLength="50.6" lengthAdjust="spacingAndGlyphs">Nb CAR T: THP-1</text>
<rect x="80.5" y="322.1" width="7.4" height="5.6" fill="#4e276e" stroke="#0002" stroke-width="0.6"/>
<text x="91.3" y="327.3" font-size="6.6" text-anchor="start" fill="#1a1a1a" stroke="#1a1a1a" stroke-width="0.1" textLength="51" lengthAdjust="spacingAndGlyphs">Nb CAR T : K562</text>
<rect x="164.1" y="304.0" width="7.4" height="5.6" fill="#23437f" stroke="#0002" stroke-width="0.6"/>
<text x="174.9" y="309.2" font-size="6.6" text-anchor="start" fill="#1a1a1a" stroke="#1a1a1a" stroke-width="0.1" textLength="42.4" lengthAdjust="spacingAndGlyphs">UTD T : THP-1</text>
<rect x="233.6" y="304.0" width="7.4" height="5.6" fill="#68ab3c" stroke="#0002" stroke-width="0.6"/>
<text x="244.4" y="309.2" font-size="6.6" text-anchor="start" fill="#1a1a1a" stroke="#1a1a1a" stroke-width="0.1" textLength="39.9" lengthAdjust="spacingAndGlyphs">UTD T : K562</text>
<rect x="164.1" y="317.1" width="7.4" height="5.6" fill="#a6062e" stroke="#0002" stroke-width="0.6"/>
<text x="174.9" y="322.3" font-size="6.6" text-anchor="start" fill="#1a1a1a" stroke="#1a1a1a" stroke-width="0.1" textLength="50.6" lengthAdjust="spacingAndGlyphs">Nb CAR T: THP-1</text>
<rect x="233.6" y="317.1" width="7.4" height="5.6" fill="#4e276e" stroke="#0002" stroke-width="0.6"/>
<text x="244.4" y="322.3" font-size="6.6" text-anchor="start" fill="#1a1a1a" stroke="#1a1a1a" stroke-width="0.1" textLength="50.9" lengthAdjust="spacingAndGlyphs">Nb CAR T : K562</text>
<text transform="translate(6.94,353.50) scale(0.99,1)" x="0" y="0" font-size="12.4" font-weight="bold" fill="#000" stroke="#000" stroke-width="0.45">G</text>
<text x="69.7" y="366.8" font-size="7.9" text-anchor="middle" fill="#1a1a1a" stroke="#1a1a1a" stroke-width="0.1" textLength="54.7" lengthAdjust="spacingAndGlyphs">Untransduced T</text>
<line x1="39.2" y1="427.7" x2="42.4" y2="427.7" stroke="#2a2a2a" stroke-width="0.9"/>
<text x="36.5" y="430.0" font-size="6.5" text-anchor="end" fill="#1e1e1e" stroke="#1e1e1e" stroke-width="0.28">0</text>
<line x1="39.2" y1="414.53" x2="42.4" y2="414.53" stroke="#2a2a2a" stroke-width="0.9"/>
<text x="36.5" y="416.83" font-size="6.5" text-anchor="end" fill="#1e1e1e" stroke="#1e1e1e" stroke-width="0.28">100</text>
<line x1="39.2" y1="401.36" x2="42.4" y2="401.36" stroke="#2a2a2a" stroke-width="0.9"/>
<text x="36.5" y="403.66" font-size="6.5" text-anchor="end" fill="#1e1e1e" stroke="#1e1e1e" stroke-width="0.28">200</text>
<line x1="39.2" y1="388.19" x2="42.4" y2="388.19" stroke="#2a2a2a" stroke-width="0.9"/>
<text x="36.5" y="390.49" font-size="6.5" text-anchor="end" fill="#1e1e1e" stroke="#1e1e1e" stroke-width="0.28">300</text>
<line x1="39.2" y1="375.02" x2="42.4" y2="375.02" stroke="#2a2a2a" stroke-width="0.9"/>
<text x="36.5" y="377.32" font-size="6.5" text-anchor="end" fill="#1e1e1e" stroke="#1e1e1e" stroke-width="0.28">400</text>
<line x1="40.7" y1="425.07" x2="42.4" y2="425.07" stroke="#2a2a2a" stroke-width="0.7"/>
<line x1="40.7" y1="422.43" x2="42.4" y2="422.43" stroke="#2a2a2a" stroke-width="0.7"/>
<line x1="40.7" y1="419.8" x2="42.4" y2="419.8" stroke="#2a2a2a" stroke-width="0.7"/>
<line x1="40.7" y1="417.16" x2="42.4" y2="417.16" stroke="#2a2a2a" stroke-width="0.7"/>
<line x1="40.7" y1="411.9" x2="42.4" y2="411.9" stroke="#2a2a2a" stroke-width="0.7"/>
<line x1="40.7" y1="409.26" x2="42.4" y2="409.26" stroke="#2a2a2a" stroke-width="0.7"/>
<line x1="40.7" y1="406.63" x2="42.4" y2="406.63" stroke="#2a2a2a" stroke-width="0.7"/>
<line x1="40.7" y1="403.99" x2="42.4" y2="403.99" stroke="#2a2a2a" stroke-width="0.7"/>
<line x1="40.7" y1="398.73" x2="42.4" y2="398.73" stroke="#2a2a2a" stroke-width="0.7"/>
<line x1="40.7" y1="396.09" x2="42.4" y2="396.09" stroke="#2a2a2a" stroke-width="0.7"/>
<line x1="40.7" y1="393.46" x2="42.4" y2="393.46" stroke="#2a2a2a" stroke-width="0.7"/>
<line x1="40.7" y1="390.82" x2="42.4" y2="390.82" stroke="#2a2a2a" stroke-width="0.7"/>
<line x1="40.7" y1="385.56" x2="42.4" y2="385.56" stroke="#2a2a2a" stroke-width="0.7"/>
<line x1="40.7" y1="382.92" x2="42.4" y2="382.92" stroke="#2a2a2a" stroke-width="0.7"/>
<line x1="40.7" y1="380.29" x2="42.4" y2="380.29" stroke="#2a2a2a" stroke-width="0.7"/>
<line x1="40.7" y1="377.65" x2="42.4" y2="377.65" stroke="#2a2a2a" stroke-width="0.7"/>
<line x1="42.4" y1="427.8" x2="42.4" y2="430.4" stroke="#2a2a2a" stroke-width="1.0"/>
<line x1="44.67" y1="427.8" x2="44.67" y2="429.4" stroke="#2a2a2a" stroke-width="0.8"/>
<line x1="45.99" y1="427.8" x2="45.99" y2="429.4" stroke="#2a2a2a" stroke-width="0.8"/>
<line x1="46.93" y1="427.8" x2="46.93" y2="429.4" stroke="#2a2a2a" stroke-width="0.8"/>
<line x1="47.66" y1="427.8" x2="47.66" y2="429.4" stroke="#2a2a2a" stroke-width="0.8"/>
<line x1="48.26" y1="427.8" x2="48.26" y2="429.4" stroke="#2a2a2a" stroke-width="0.8"/>
<line x1="48.76" y1="427.8" x2="48.76" y2="429.4" stroke="#2a2a2a" stroke-width="0.8"/>
<line x1="49.2" y1="427.8" x2="49.2" y2="429.4" stroke="#2a2a2a" stroke-width="0.8"/>
<line x1="49.59" y1="427.8" x2="49.59" y2="429.4" stroke="#2a2a2a" stroke-width="0.8"/>
<line x1="49.93" y1="427.8" x2="49.93" y2="430.4" stroke="#2a2a2a" stroke-width="1.0"/>
<line x1="52.2" y1="427.8" x2="52.2" y2="429.4" stroke="#2a2a2a" stroke-width="0.8"/>
<line x1="53.52" y1="427.8" x2="53.52" y2="429.4" stroke="#2a2a2a" stroke-width="0.8"/>
<line x1="54.46" y1="427.8" x2="54.46" y2="429.4" stroke="#2a2a2a" stroke-width="0.8"/>
<line x1="55.19" y1="427.8" x2="55.19" y2="429.4" stroke="#2a2a2a" stroke-width="0.8"/>
<line x1="55.79" y1="427.8" x2="55.79" y2="429.4" stroke="#2a2a2a" stroke-width="0.8"/>
<line x1="56.29" y1="427.8" x2="56.29" y2="429.4" stroke="#2a2a2a" stroke-width="0.8"/>
<line x1="56.73" y1="427.8" x2="56.73" y2="429.4" stroke="#2a2a2a" stroke-width="0.8"/>
<line x1="57.12" y1="427.8" x2="57.12" y2="429.4" stroke="#2a2a2a" stroke-width="0.8"/>
<line x1="57.46" y1="427.8" x2="57.46" y2="430.4" stroke="#2a2a2a" stroke-width="1.0"/>
<line x1="59.73" y1="427.8" x2="59.73" y2="429.4" stroke="#2a2a2a" stroke-width="0.8"/>
<line x1="61.05" y1="427.8" x2="61.05" y2="429.4" stroke="#2a2a2a" stroke-width="0.8"/>
<line x1="61.99" y1="427.8" x2="61.99" y2="429.4" stroke="#2a2a2a" stroke-width="0.8"/>
<line x1="62.72" y1="427.8" x2="62.72" y2="429.4" stroke="#2a2a2a" stroke-width="0.8"/>
<line x1="63.32" y1="427.8" x2="63.32" y2="429.4" stroke="#2a2a2a" stroke-width="0.8"/>
<line x1="63.82" y1="427.8" x2="63.82" y2="429.4" stroke="#2a2a2a" stroke-width="0.8"/>
<line x1="64.26" y1="427.8" x2="64.26" y2="429.4" stroke="#2a2a2a" stroke-width="0.8"/>
<line x1="64.65" y1="427.8" x2="64.65" y2="429.4" stroke="#2a2a2a" stroke-width="0.8"/>
<line x1="64.99" y1="427.8" x2="64.99" y2="430.4" stroke="#2a2a2a" stroke-width="1.0"/>
<line x1="67.26" y1="427.8" x2="67.26" y2="429.4" stroke="#2a2a2a" stroke-width="0.8"/>
<line x1="68.58" y1="427.8" x2="68.58" y2="429.4" stroke="#2a2a2a" stroke-width="0.8"/>
<line x1="69.52" y1="427.8" x2="69.52" y2="429.4" stroke="#2a2a2a" stroke-width="0.8"/>
<line x1="70.25" y1="427.8" x2="70.25" y2="429.4" stroke="#2a2a2a" stroke-width="0.8"/>
<line x1="70.85" y1="427.8" x2="70.85" y2="429.4" stroke="#2a2a2a" stroke-width="0.8"/>
<line x1="71.35" y1="427.8" x2="71.35" y2="429.4" stroke="#2a2a2a" stroke-width="0.8"/>
<line x1="71.79" y1="427.8" x2="71.79" y2="429.4" stroke="#2a2a2a" stroke-width="0.8"/>
<line x1="72.18" y1="427.8" x2="72.18" y2="429.4" stroke="#2a2a2a" stroke-width="0.8"/>
<line x1="72.52" y1="427.8" x2="72.52" y2="430.4" stroke="#2a2a2a" stroke-width="1.0"/>
<line x1="74.79" y1="427.8" x2="74.79" y2="429.4" stroke="#2a2a2a" stroke-width="0.8"/>
<line x1="76.11" y1="427.8" x2="76.11" y2="429.4" stroke="#2a2a2a" stroke-width="0.8"/>
<line x1="77.05" y1="427.8" x2="77.05" y2="429.4" stroke="#2a2a2a" stroke-width="0.8"/>
<line x1="77.78" y1="427.8" x2="77.78" y2="429.4" stroke="#2a2a2a" stroke-width="0.8"/>
<line x1="78.38" y1="427.8" x2="78.38" y2="429.4" stroke="#2a2a2a" stroke-width="0.8"/>
<line x1="78.88" y1="427.8" x2="78.88" y2="429.4" stroke="#2a2a2a" stroke-width="0.8"/>
<line x1="79.32" y1="427.8" x2="79.32" y2="429.4" stroke="#2a2a2a" stroke-width="0.8"/>
<line x1="79.71" y1="427.8" x2="79.71" y2="429.4" stroke="#2a2a2a" stroke-width="0.8"/>
<line x1="80.05" y1="427.8" x2="80.05" y2="430.4" stroke="#2a2a2a" stroke-width="1.0"/>
<line x1="82.32" y1="427.8" x2="82.32" y2="429.4" stroke="#2a2a2a" stroke-width="0.8"/>
<line x1="83.64" y1="427.8" x2="83.64" y2="429.4" stroke="#2a2a2a" stroke-width="0.8"/>
<line x1="84.58" y1="427.8" x2="84.58" y2="429.4" stroke="#2a2a2a" stroke-width="0.8"/>
<line x1="85.31" y1="427.8" x2="85.31" y2="429.4" stroke="#2a2a2a" stroke-width="0.8"/>
<line x1="85.91" y1="427.8" x2="85.91" y2="429.4" stroke="#2a2a2a" stroke-width="0.8"/>
<line x1="86.41" y1="427.8" x2="86.41" y2="429.4" stroke="#2a2a2a" stroke-width="0.8"/>
<line x1="86.85" y1="427.8" x2="86.85" y2="429.4" stroke="#2a2a2a" stroke-width="0.8"/>
<line x1="87.24" y1="427.8" x2="87.24" y2="429.4" stroke="#2a2a2a" stroke-width="0.8"/>
<line x1="87.58" y1="427.8" x2="87.58" y2="430.4" stroke="#2a2a2a" stroke-width="1.0"/>
<line x1="89.85" y1="427.8" x2="89.85" y2="429.4" stroke="#2a2a2a" stroke-width="0.8"/>
<line x1="91.17" y1="427.8" x2="91.17" y2="429.4" stroke="#2a2a2a" stroke-width="0.8"/>
<line x1="92.11" y1="427.8" x2="92.11" y2="429.4" stroke="#2a2a2a" stroke-width="0.8"/>
<line x1="92.84" y1="427.8" x2="92.84" y2="429.4" stroke="#2a2a2a" stroke-width="0.8"/>
<line x1="93.44" y1="427.8" x2="93.44" y2="429.4" stroke="#2a2a2a" stroke-width="0.8"/>
<line x1="93.94" y1="427.8" x2="93.94" y2="429.4" stroke="#2a2a2a" stroke-width="0.8"/>
<line x1="94.38" y1="427.8" x2="94.38" y2="429.4" stroke="#2a2a2a" stroke-width="0.8"/>
<line x1="94.77" y1="427.8" x2="94.77" y2="429.4" stroke="#2a2a2a" stroke-width="0.8"/>
<line x1="95.11" y1="427.8" x2="95.11" y2="430.4" stroke="#2a2a2a" stroke-width="1.0"/>
<text x="42.40" y="439.6" font-size="6.3" text-anchor="middle" fill="#2a2a2a" stroke="#2a2a2a" stroke-width="0.12">10<tspan dy="-2.6" font-size="4.6">0</tspan></text>
<text x="57.46" y="439.6" font-size="6.3" text-anchor="middle" fill="#2a2a2a" stroke="#2a2a2a" stroke-width="0.12">10<tspan dy="-2.6" font-size="4.6">2</tspan></text>
<text x="72.52" y="439.6" font-size="6.3" text-anchor="middle" fill="#2a2a2a" stroke="#2a2a2a" stroke-width="0.12">10<tspan dy="-2.6" font-size="4.6">4</tspan></text>
<text x="87.58" y="439.6" font-size="6.3" text-anchor="middle" fill="#2a2a2a" stroke="#2a2a2a" stroke-width="0.12">10<tspan dy="-2.6" font-size="4.6">6</tspan></text>
<path d="M43.00 427.60 C44.03 427.58 47.57 427.72 49.20 427.50 C50.83 427.28 51.58 427.50 52.80 426.30 C54.02 425.10 55.58 422.70 56.50 420.30 C57.42 417.90 57.80 414.92 58.30 411.90 C58.80 408.88 59.10 405.85 59.50 402.20 C59.90 398.55 60.27 394.03 60.70 390.00 C61.13 385.97 61.67 379.00 62.10 378.00 C62.53 377.00 62.93 380.97 63.30 384.00 C63.67 387.03 64.03 392.17 64.30 396.20 C64.57 400.23 64.65 404.18 64.90 408.20 C65.15 412.22 65.40 417.28 65.80 420.30 C66.20 423.32 66.65 425.10 67.30 426.30 C67.95 427.50 67.58 427.28 69.70 427.50 C71.82 427.72 75.45 427.58 80.00 427.60 C84.55 427.62 94.17 427.60 97.00 427.60" fill="none" stroke="#6fc3f0" stroke-width="1.05" stroke-linejoin="round"/>
<path d="M43.00 427.60 C44.63 427.55 50.55 427.92 52.80 427.30 C55.05 426.68 55.48 426.07 56.50 423.90 C57.52 421.73 58.30 417.92 58.90 414.30 C59.50 410.68 59.70 406.25 60.10 402.20 C60.50 398.15 60.80 393.72 61.30 390.00 C61.80 386.28 62.60 380.48 63.10 379.90 C63.60 379.32 63.90 382.78 64.30 386.50 C64.70 390.22 65.20 397.57 65.50 402.20 C65.80 406.83 65.80 410.68 66.10 414.30 C66.40 417.92 66.70 421.73 67.30 423.90 C67.90 426.07 67.58 426.68 69.70 427.30 C71.82 427.92 75.45 427.55 80.00 427.60 C84.55 427.65 94.17 427.60 97.00 427.60" fill="none" stroke="#b01840" stroke-width="1.05" stroke-linejoin="round"/>
<path d="M43.00 427.60 C44.63 427.55 50.47 427.92 52.80 427.30 C55.13 426.68 55.88 426.07 57.00 423.90 C58.12 421.73 58.88 417.92 59.50 414.30 C60.12 410.68 60.30 406.25 60.70 402.20 C61.10 398.15 61.47 393.53 61.90 390.00 C62.33 386.47 62.80 381.00 63.30 381.00 C63.80 381.00 64.47 386.47 64.90 390.00 C65.33 393.53 65.60 398.15 65.90 402.20 C66.20 406.25 66.37 410.88 66.70 414.30 C67.03 417.72 67.30 420.70 67.90 422.70 C68.50 424.70 69.28 425.50 70.30 426.30 C71.32 427.10 71.55 427.28 74.00 427.50 C76.45 427.72 81.17 427.58 85.00 427.60 C88.83 427.62 95.00 427.60 97.00 427.60" fill="none" stroke="#ec9a2c" stroke-width="1.05" stroke-linejoin="round"/>
<rect x="42.4" y="373.4" width="54.9" height="54.4" fill="none" stroke="#1a1a1a" stroke-width="1.1"/>
<line x1="42.75" y1="374.5" x2="42.75" y2="409" stroke="#6fc3f0" stroke-width="0.9"/>
<line x1="42.75" y1="409" x2="42.75" y2="427.5" stroke="#ec9a2c" stroke-width="0.9"/>
<line x1="66.9" y1="414.3" x2="93.9" y2="414.3" stroke="#1a1a1a" stroke-width="1.1"/>
<line x1="66.9" y1="412.9" x2="66.9" y2="415.7" stroke="#1a1a1a" stroke-width="0.9"/>
<line x1="93.9" y1="412.9" x2="93.9" y2="415.7" stroke="#1a1a1a" stroke-width="0.9"/>
<text x="80.35" y="405.9" font-size="5.7" text-anchor="middle" fill="#1a1a1a" stroke="#1a1a1a" stroke-width="0.12" textLength="10.6" lengthAdjust="spacingAndGlyphs">1.58</text>
<text x="151.05" y="368" font-size="7.9" text-anchor="middle" fill="#1a1a1a" stroke="#1a1a1a" stroke-width="0.1" textLength="48.4" lengthAdjust="spacingAndGlyphs">Nb157-CAR T</text>
<line x1="120.5" y1="427.7" x2="123.7" y2="427.7" stroke="#2a2a2a" stroke-width="0.9"/>
<text x="117.8" y="430.0" font-size="6.5" text-anchor="end" fill="#1e1e1e" stroke="#1e1e1e" stroke-width="0.28">0</text>
<line x1="120.5" y1="414.53" x2="123.7" y2="414.53" stroke="#2a2a2a" stroke-width="0.9"/>
<text x="117.8" y="416.83" font-size="6.5" text-anchor="end" fill="#1e1e1e" stroke="#1e1e1e" stroke-width="0.28">100</text>
<line x1="120.5" y1="401.36" x2="123.7" y2="401.36" stroke="#2a2a2a" stroke-width="0.9"/>
<text x="117.8" y="403.66" font-size="6.5" text-anchor="end" fill="#1e1e1e" stroke="#1e1e1e" stroke-width="0.28">200</text>
<line x1="120.5" y1="388.19" x2="123.7" y2="388.19" stroke="#2a2a2a" stroke-width="0.9"/>
<text x="117.8" y="390.49" font-size="6.5" text-anchor="end" fill="#1e1e1e" stroke="#1e1e1e" stroke-width="0.28">300</text>
<line x1="120.5" y1="375.02" x2="123.7" y2="375.02" stroke="#2a2a2a" stroke-width="0.9"/>
<text x="117.8" y="377.32" font-size="6.5" text-anchor="end" fill="#1e1e1e" stroke="#1e1e1e" stroke-width="0.28">400</text>
<line x1="122.0" y1="425.07" x2="123.7" y2="425.07" stroke="#2a2a2a" stroke-width="0.7"/>
<line x1="122.0" y1="422.43" x2="123.7" y2="422.43" stroke="#2a2a2a" stroke-width="0.7"/>
<line x1="122.0" y1="419.8" x2="123.7" y2="419.8" stroke="#2a2a2a" stroke-width="0.7"/>
<line x1="122.0" y1="417.16" x2="123.7" y2="417.16" stroke="#2a2a2a" stroke-width="0.7"/>
<line x1="122.0" y1="411.9" x2="123.7" y2="411.9" stroke="#2a2a2a" stroke-width="0.7"/>
<line x1="122.0" y1="409.26" x2="123.7" y2="409.26" stroke="#2a2a2a" stroke-width="0.7"/>
<line x1="122.0" y1="406.63" x2="123.7" y2="406.63" stroke="#2a2a2a" stroke-width="0.7"/>
<line x1="122.0" y1="403.99" x2="123.7" y2="403.99" stroke="#2a2a2a" stroke-width="0.7"/>
<line x1="122.0" y1="398.73" x2="123.7" y2="398.73" stroke="#2a2a2a" stroke-width="0.7"/>
<line x1="122.0" y1="396.09" x2="123.7" y2="396.09" stroke="#2a2a2a" stroke-width="0.7"/>
<line x1="122.0" y1="393.46" x2="123.7" y2="393.46" stroke="#2a2a2a" stroke-width="0.7"/>
<line x1="122.0" y1="390.82" x2="123.7" y2="390.82" stroke="#2a2a2a" stroke-width="0.7"/>
<line x1="122.0" y1="385.56" x2="123.7" y2="385.56" stroke="#2a2a2a" stroke-width="0.7"/>
<line x1="122.0" y1="382.92" x2="123.7" y2="382.92" stroke="#2a2a2a" stroke-width="0.7"/>
<line x1="122.0" y1="380.29" x2="123.7" y2="380.29" stroke="#2a2a2a" stroke-width="0.7"/>
<line x1="122.0" y1="377.65" x2="123.7" y2="377.65" stroke="#2a2a2a" stroke-width="0.7"/>
<line x1="123.7" y1="427.8" x2="123.7" y2="430.4" stroke="#2a2a2a" stroke-width="1.0"/>
<line x1="125.97" y1="427.8" x2="125.97" y2="429.4" stroke="#2a2a2a" stroke-width="0.8"/>
<line x1="127.29" y1="427.8" x2="127.29" y2="429.4" stroke="#2a2a2a" stroke-width="0.8"/>
<line x1="128.23" y1="427.8" x2="128.23" y2="429.4" stroke="#2a2a2a" stroke-width="0.8"/>
<line x1="128.96" y1="427.8" x2="128.96" y2="429.4" stroke="#2a2a2a" stroke-width="0.8"/>
<line x1="129.56" y1="427.8" x2="129.56" y2="429.4" stroke="#2a2a2a" stroke-width="0.8"/>
<line x1="130.06" y1="427.8" x2="130.06" y2="429.4" stroke="#2a2a2a" stroke-width="0.8"/>
<line x1="130.5" y1="427.8" x2="130.5" y2="429.4" stroke="#2a2a2a" stroke-width="0.8"/>
<line x1="130.89" y1="427.8" x2="130.89" y2="429.4" stroke="#2a2a2a" stroke-width="0.8"/>
<line x1="131.23" y1="427.8" x2="131.23" y2="430.4" stroke="#2a2a2a" stroke-width="1.0"/>
<line x1="133.5" y1="427.8" x2="133.5" y2="429.4" stroke="#2a2a2a" stroke-width="0.8"/>
<line x1="134.82" y1="427.8" x2="134.82" y2="429.4" stroke="#2a2a2a" stroke-width="0.8"/>
<line x1="135.76" y1="427.8" x2="135.76" y2="429.4" stroke="#2a2a2a" stroke-width="0.8"/>
<line x1="136.49" y1="427.8" x2="136.49" y2="429.4" stroke="#2a2a2a" stroke-width="0.8"/>
<line x1="137.09" y1="427.8" x2="137.09" y2="429.4" stroke="#2a2a2a" stroke-width="0.8"/>
<line x1="137.59" y1="427.8" x2="137.59" y2="429.4" stroke="#2a2a2a" stroke-width="0.8"/>
<line x1="138.03" y1="427.8" x2="138.03" y2="429.4" stroke="#2a2a2a" stroke-width="0.8"/>
<line x1="138.42" y1="427.8" x2="138.42" y2="429.4" stroke="#2a2a2a" stroke-width="0.8"/>
<line x1="138.76" y1="427.8" x2="138.76" y2="430.4" stroke="#2a2a2a" stroke-width="1.0"/>
<line x1="141.03" y1="427.8" x2="141.03" y2="429.4" stroke="#2a2a2a" stroke-width="0.8"/>
<line x1="142.35" y1="427.8" x2="142.35" y2="429.4" stroke="#2a2a2a" stroke-width="0.8"/>
<line x1="143.29" y1="427.8" x2="143.29" y2="429.4" stroke="#2a2a2a" stroke-width="0.8"/>
<line x1="144.02" y1="427.8" x2="144.02" y2="429.4" stroke="#2a2a2a" stroke-width="0.8"/>
<line x1="144.62" y1="427.8" x2="144.62" y2="429.4" stroke="#2a2a2a" stroke-width="0.8"/>
<line x1="145.12" y1="427.8" x2="145.12" y2="429.4" stroke="#2a2a2a" stroke-width="0.8"/>
<line x1="145.56" y1="427.8" x2="145.56" y2="429.4" stroke="#2a2a2a" stroke-width="0.8"/>
<line x1="145.95" y1="427.8" x2="145.95" y2="429.4" stroke="#2a2a2a" stroke-width="0.8"/>
<line x1="146.29" y1="427.8" x2="146.29" y2="430.4" stroke="#2a2a2a" stroke-width="1.0"/>
<line x1="148.56" y1="427.8" x2="148.56" y2="429.4" stroke="#2a2a2a" stroke-width="0.8"/>
<line x1="149.88" y1="427.8" x2="149.88" y2="429.4" stroke="#2a2a2a" stroke-width="0.8"/>
<line x1="150.82" y1="427.8" x2="150.82" y2="429.4" stroke="#2a2a2a" stroke-width="0.8"/>
<line x1="151.55" y1="427.8" x2="151.55" y2="429.4" stroke="#2a2a2a" stroke-width="0.8"/>
<line x1="152.15" y1="427.8" x2="152.15" y2="429.4" stroke="#2a2a2a" stroke-width="0.8"/>
<line x1="152.65" y1="427.8" x2="152.65" y2="429.4" stroke="#2a2a2a" stroke-width="0.8"/>
<line x1="153.09" y1="427.8" x2="153.09" y2="429.4" stroke="#2a2a2a" stroke-width="0.8"/>
<line x1="153.48" y1="427.8" x2="153.48" y2="429.4" stroke="#2a2a2a" stroke-width="0.8"/>
<line x1="153.82" y1="427.8" x2="153.82" y2="430.4" stroke="#2a2a2a" stroke-width="1.0"/>
<line x1="156.09" y1="427.8" x2="156.09" y2="429.4" stroke="#2a2a2a" stroke-width="0.8"/>
<line x1="157.41" y1="427.8" x2="157.41" y2="429.4" stroke="#2a2a2a" stroke-width="0.8"/>
<line x1="158.35" y1="427.8" x2="158.35" y2="429.4" stroke="#2a2a2a" stroke-width="0.8"/>
<line x1="159.08" y1="427.8" x2="159.08" y2="429.4" stroke="#2a2a2a" stroke-width="0.8"/>
<line x1="159.68" y1="427.8" x2="159.68" y2="429.4" stroke="#2a2a2a" stroke-width="0.8"/>
<line x1="160.18" y1="427.8" x2="160.18" y2="429.4" stroke="#2a2a2a" stroke-width="0.8"/>
<line x1="160.62" y1="427.8" x2="160.62" y2="429.4" stroke="#2a2a2a" stroke-width="0.8"/>
<line x1="161.01" y1="427.8" x2="161.01" y2="429.4" stroke="#2a2a2a" stroke-width="0.8"/>
<line x1="161.35" y1="427.8" x2="161.35" y2="430.4" stroke="#2a2a2a" stroke-width="1.0"/>
<line x1="163.62" y1="427.8" x2="163.62" y2="429.4" stroke="#2a2a2a" stroke-width="0.8"/>
<line x1="164.94" y1="427.8" x2="164.94" y2="429.4" stroke="#2a2a2a" stroke-width="0.8"/>
<line x1="165.88" y1="427.8" x2="165.88" y2="429.4" stroke="#2a2a2a" stroke-width="0.8"/>
<line x1="166.61" y1="427.8" x2="166.61" y2="429.4" stroke="#2a2a2a" stroke-width="0.8"/>
<line x1="167.21" y1="427.8" x2="167.21" y2="429.4" stroke="#2a2a2a" stroke-width="0.8"/>
<line x1="167.71" y1="427.8" x2="167.71" y2="429.4" stroke="#2a2a2a" stroke-width="0.8"/>
<line x1="168.15" y1="427.8" x2="168.15" y2="429.4" stroke="#2a2a2a" stroke-width="0.8"/>
<line x1="168.54" y1="427.8" x2="168.54" y2="429.4" stroke="#2a2a2a" stroke-width="0.8"/>
<line x1="168.88" y1="427.8" x2="168.88" y2="430.4" stroke="#2a2a2a" stroke-width="1.0"/>
<line x1="171.15" y1="427.8" x2="171.15" y2="429.4" stroke="#2a2a2a" stroke-width="0.8"/>
<line x1="172.47" y1="427.8" x2="172.47" y2="429.4" stroke="#2a2a2a" stroke-width="0.8"/>
<line x1="173.41" y1="427.8" x2="173.41" y2="429.4" stroke="#2a2a2a" stroke-width="0.8"/>
<line x1="174.14" y1="427.8" x2="174.14" y2="429.4" stroke="#2a2a2a" stroke-width="0.8"/>
<line x1="174.74" y1="427.8" x2="174.74" y2="429.4" stroke="#2a2a2a" stroke-width="0.8"/>
<line x1="175.24" y1="427.8" x2="175.24" y2="429.4" stroke="#2a2a2a" stroke-width="0.8"/>
<line x1="175.68" y1="427.8" x2="175.68" y2="429.4" stroke="#2a2a2a" stroke-width="0.8"/>
<line x1="176.07" y1="427.8" x2="176.07" y2="429.4" stroke="#2a2a2a" stroke-width="0.8"/>
<line x1="176.41" y1="427.8" x2="176.41" y2="430.4" stroke="#2a2a2a" stroke-width="1.0"/>
<text x="123.70" y="439.6" font-size="6.3" text-anchor="middle" fill="#2a2a2a" stroke="#2a2a2a" stroke-width="0.12">10<tspan dy="-2.6" font-size="4.6">0</tspan></text>
<text x="138.76" y="439.6" font-size="6.3" text-anchor="middle" fill="#2a2a2a" stroke="#2a2a2a" stroke-width="0.12">10<tspan dy="-2.6" font-size="4.6">2</tspan></text>
<text x="153.82" y="439.6" font-size="6.3" text-anchor="middle" fill="#2a2a2a" stroke="#2a2a2a" stroke-width="0.12">10<tspan dy="-2.6" font-size="4.6">4</tspan></text>
<text x="168.88" y="439.6" font-size="6.3" text-anchor="middle" fill="#2a2a2a" stroke="#2a2a2a" stroke-width="0.12">10<tspan dy="-2.6" font-size="4.6">6</tspan></text>
<path d="M124.00 427.60 C125.50 427.58 130.80 427.72 133.00 427.50 C135.20 427.28 135.98 427.50 137.20 426.30 C138.42 425.10 139.48 423.32 140.30 420.30 C141.12 417.28 141.60 412.22 142.10 408.20 C142.60 404.18 142.80 400.23 143.30 396.20 C143.80 392.17 144.60 384.00 145.10 384.00 C145.60 384.00 145.93 391.77 146.30 396.20 C146.67 400.63 147.00 406.18 147.30 410.60 C147.60 415.02 147.57 419.97 148.10 422.70 C148.63 425.43 149.68 426.20 150.50 427.00 C151.32 427.80 151.42 427.40 153.00 427.50 C154.58 427.60 155.67 427.58 160.00 427.60 C164.33 427.62 175.83 427.60 179.00 427.60" fill="none" stroke="#6fc3f0" stroke-width="1.05" stroke-linejoin="round"/>
<path d="M124.00 427.60 C126.00 427.58 133.48 427.55 136.00 427.50 C138.52 427.45 138.18 427.50 139.10 427.30 C140.02 427.10 140.80 427.47 141.50 426.30 C142.20 425.13 142.80 423.32 143.30 420.30 C143.80 417.28 144.13 412.63 144.50 408.20 C144.87 403.77 145.23 397.42 145.50 393.70 C145.77 389.98 145.83 386.70 146.10 385.90 C146.37 385.10 146.77 386.98 147.10 388.90 C147.43 390.82 147.73 394.78 148.10 397.40 C148.47 400.02 148.90 402.60 149.30 404.60 C149.70 406.60 150.10 408.08 150.50 409.40 C150.90 410.72 151.30 411.48 151.70 412.50 C152.10 413.52 152.38 414.60 152.90 415.50 C153.42 416.40 154.28 417.20 154.80 417.90 C155.32 418.60 155.50 418.90 156.00 419.70 C156.50 420.50 157.20 421.60 157.80 422.70 C158.40 423.80 159.10 425.52 159.60 426.30 C160.10 427.08 160.23 427.18 160.80 427.40 C161.37 427.62 159.97 427.57 163.00 427.60 C166.03 427.63 176.33 427.60 179.00 427.60" fill="none" stroke="#b01840" stroke-width="1.05" stroke-linejoin="round"/>
<path d="M124.00 427.60 C125.40 427.58 130.50 427.60 132.40 427.50 C134.30 427.40 134.28 427.80 135.40 427.00 C136.52 426.20 138.13 424.82 139.10 422.70 C140.07 420.58 140.65 417.72 141.20 414.30 C141.75 410.88 142.02 406.25 142.40 402.20 C142.78 398.15 143.12 393.72 143.50 390.00 C143.88 386.28 144.33 380.48 144.70 379.90 C145.07 379.32 145.33 382.78 145.70 386.50 C146.07 390.22 146.60 397.57 146.90 402.20 C147.20 406.83 147.25 410.88 147.50 414.30 C147.75 417.72 148.00 420.58 148.40 422.70 C148.80 424.82 148.80 426.18 149.90 427.00 C151.00 427.82 150.15 427.50 155.00 427.60 C159.85 427.70 175.00 427.60 179.00 427.60" fill="none" stroke="#ec9a2c" stroke-width="1.05" stroke-linejoin="round"/>
<rect x="123.7" y="373.4" width="54.9" height="54.4" fill="none" stroke="#1a1a1a" stroke-width="1.1"/>
<line x1="124.05" y1="374.5" x2="124.05" y2="427.5" stroke="#ec9a2c" stroke-width="0.9"/>
<line x1="148.3" y1="414.3" x2="175" y2="414.3" stroke="#1a1a1a" stroke-width="1.1"/>
<line x1="148.3" y1="412.9" x2="148.3" y2="415.7" stroke="#1a1a1a" stroke-width="0.9"/>
<line x1="175" y1="412.9" x2="175" y2="415.7" stroke="#1a1a1a" stroke-width="0.9"/>
<text x="161.9" y="405.9" font-size="5.7" text-anchor="middle" fill="#1a1a1a" stroke="#1a1a1a" stroke-width="0.12" textLength="10.9" lengthAdjust="spacingAndGlyphs">41.8</text>
<text x="233.05" y="366.5" font-size="7.9" text-anchor="middle" fill="#1a1a1a" stroke="#1a1a1a" stroke-width="0.1" textLength="48.4" lengthAdjust="spacingAndGlyphs">Nb163-CAR T</text>
<line x1="202.2" y1="427.7" x2="205.4" y2="427.7" stroke="#2a2a2a" stroke-width="0.9"/>
<text x="199.5" y="430.0" font-size="6.5" text-anchor="end" fill="#1e1e1e" stroke="#1e1e1e" stroke-width="0.28">0</text>
<line x1="202.2" y1="414.53" x2="205.4" y2="414.53" stroke="#2a2a2a" stroke-width="0.9"/>
<text x="199.5" y="416.83" font-size="6.5" text-anchor="end" fill="#1e1e1e" stroke="#1e1e1e" stroke-width="0.28">100</text>
<line x1="202.2" y1="401.36" x2="205.4" y2="401.36" stroke="#2a2a2a" stroke-width="0.9"/>
<text x="199.5" y="403.66" font-size="6.5" text-anchor="end" fill="#1e1e1e" stroke="#1e1e1e" stroke-width="0.28">200</text>
<line x1="202.2" y1="388.19" x2="205.4" y2="388.19" stroke="#2a2a2a" stroke-width="0.9"/>
<text x="199.5" y="390.49" font-size="6.5" text-anchor="end" fill="#1e1e1e" stroke="#1e1e1e" stroke-width="0.28">300</text>
<line x1="202.2" y1="375.02" x2="205.4" y2="375.02" stroke="#2a2a2a" stroke-width="0.9"/>
<text x="199.5" y="377.32" font-size="6.5" text-anchor="end" fill="#1e1e1e" stroke="#1e1e1e" stroke-width="0.28">400</text>
<line x1="203.7" y1="425.07" x2="205.4" y2="425.07" stroke="#2a2a2a" stroke-width="0.7"/>
<line x1="203.7" y1="422.43" x2="205.4" y2="422.43" stroke="#2a2a2a" stroke-width="0.7"/>
<line x1="203.7" y1="419.8" x2="205.4" y2="419.8" stroke="#2a2a2a" stroke-width="0.7"/>
<line x1="203.7" y1="417.16" x2="205.4" y2="417.16" stroke="#2a2a2a" stroke-width="0.7"/>
<line x1="203.7" y1="411.9" x2="205.4" y2="411.9" stroke="#2a2a2a" stroke-width="0.7"/>
<line x1="203.7" y1="409.26" x2="205.4" y2="409.26" stroke="#2a2a2a" stroke-width="0.7"/>
<line x1="203.7" y1="406.63" x2="205.4" y2="406.63" stroke="#2a2a2a" stroke-width="0.7"/>
<line x1="203.7" y1="403.99" x2="205.4" y2="403.99" stroke="#2a2a2a" stroke-width="0.7"/>
<line x1="203.7" y1="398.73" x2="205.4" y2="398.73" stroke="#2a2a2a" stroke-width="0.7"/>
<line x1="203.7" y1="396.09" x2="205.4" y2="396.09" stroke="#2a2a2a" stroke-width="0.7"/>
<line x1="203.7" y1="393.46" x2="205.4" y2="393.46" stroke="#2a2a2a" stroke-width="0.7"/>
<line x1="203.7" y1="390.82" x2="205.4" y2="390.82" stroke="#2a2a2a" stroke-width="0.7"/>
<line x1="203.7" y1="385.56" x2="205.4" y2="385.56" stroke="#2a2a2a" stroke-width="0.7"/>
<line x1="203.7" y1="382.92" x2="205.4" y2="382.92" stroke="#2a2a2a" stroke-width="0.7"/>
<line x1="203.7" y1="380.29" x2="205.4" y2="380.29" stroke="#2a2a2a" stroke-width="0.7"/>
<line x1="203.7" y1="377.65" x2="205.4" y2="377.65" stroke="#2a2a2a" stroke-width="0.7"/>
<line x1="205.4" y1="427.8" x2="205.4" y2="430.4" stroke="#2a2a2a" stroke-width="1.0"/>
<line x1="207.67" y1="427.8" x2="207.67" y2="429.4" stroke="#2a2a2a" stroke-width="0.8"/>
<line x1="208.99" y1="427.8" x2="208.99" y2="429.4" stroke="#2a2a2a" stroke-width="0.8"/>
<line x1="209.93" y1="427.8" x2="209.93" y2="429.4" stroke="#2a2a2a" stroke-width="0.8"/>
<line x1="210.66" y1="427.8" x2="210.66" y2="429.4" stroke="#2a2a2a" stroke-width="0.8"/>
<line x1="211.26" y1="427.8" x2="211.26" y2="429.4" stroke="#2a2a2a" stroke-width="0.8"/>
<line x1="211.76" y1="427.8" x2="211.76" y2="429.4" stroke="#2a2a2a" stroke-width="0.8"/>
<line x1="212.2" y1="427.8" x2="212.2" y2="429.4" stroke="#2a2a2a" stroke-width="0.8"/>
<line x1="212.59" y1="427.8" x2="212.59" y2="429.4" stroke="#2a2a2a" stroke-width="0.8"/>
<line x1="212.93" y1="427.8" x2="212.93" y2="430.4" stroke="#2a2a2a" stroke-width="1.0"/>
<line x1="215.2" y1="427.8" x2="215.2" y2="429.4" stroke="#2a2a2a" stroke-width="0.8"/>
<line x1="216.52" y1="427.8" x2="216.52" y2="429.4" stroke="#2a2a2a" stroke-width="0.8"/>
<line x1="217.46" y1="427.8" x2="217.46" y2="429.4" stroke="#2a2a2a" stroke-width="0.8"/>
<line x1="218.19" y1="427.8" x2="218.19" y2="429.4" stroke="#2a2a2a" stroke-width="0.8"/>
<line x1="218.79" y1="427.8" x2="218.79" y2="429.4" stroke="#2a2a2a" stroke-width="0.8"/>
<line x1="219.29" y1="427.8" x2="219.29" y2="429.4" stroke="#2a2a2a" stroke-width="0.8"/>
<line x1="219.73" y1="427.8" x2="219.73" y2="429.4" stroke="#2a2a2a" stroke-width="0.8"/>
<line x1="220.12" y1="427.8" x2="220.12" y2="429.4" stroke="#2a2a2a" stroke-width="0.8"/>
<line x1="220.46" y1="427.8" x2="220.46" y2="430.4" stroke="#2a2a2a" stroke-width="1.0"/>
<line x1="222.73" y1="427.8" x2="222.73" y2="429.4" stroke="#2a2a2a" stroke-width="0.8"/>
<line x1="224.05" y1="427.8" x2="224.05" y2="429.4" stroke="#2a2a2a" stroke-width="0.8"/>
<line x1="224.99" y1="427.8" x2="224.99" y2="429.4" stroke="#2a2a2a" stroke-width="0.8"/>
<line x1="225.72" y1="427.8" x2="225.72" y2="429.4" stroke="#2a2a2a" stroke-width="0.8"/>
<line x1="226.32" y1="427.8" x2="226.32" y2="429.4" stroke="#2a2a2a" stroke-width="0.8"/>
<line x1="226.82" y1="427.8" x2="226.82" y2="429.4" stroke="#2a2a2a" stroke-width="0.8"/>
<line x1="227.26" y1="427.8" x2="227.26" y2="429.4" stroke="#2a2a2a" stroke-width="0.8"/>
<line x1="227.65" y1="427.8" x2="227.65" y2="429.4" stroke="#2a2a2a" stroke-width="0.8"/>
<line x1="227.99" y1="427.8" x2="227.99" y2="430.4" stroke="#2a2a2a" stroke-width="1.0"/>
<line x1="230.26" y1="427.8" x2="230.26" y2="429.4" stroke="#2a2a2a" stroke-width="0.8"/>
<line x1="231.58" y1="427.8" x2="231.58" y2="429.4" stroke="#2a2a2a" stroke-width="0.8"/>
<line x1="232.52" y1="427.8" x2="232.52" y2="429.4" stroke="#2a2a2a" stroke-width="0.8"/>
<line x1="233.25" y1="427.8" x2="233.25" y2="429.4" stroke="#2a2a2a" stroke-width="0.8"/>
<line x1="233.85" y1="427.8" x2="233.85" y2="429.4" stroke="#2a2a2a" stroke-width="0.8"/>
<line x1="234.35" y1="427.8" x2="234.35" y2="429.4" stroke="#2a2a2a" stroke-width="0.8"/>
<line x1="234.79" y1="427.8" x2="234.79" y2="429.4" stroke="#2a2a2a" stroke-width="0.8"/>
<line x1="235.18" y1="427.8" x2="235.18" y2="429.4" stroke="#2a2a2a" stroke-width="0.8"/>
<line x1="235.52" y1="427.8" x2="235.52" y2="430.4" stroke="#2a2a2a" stroke-width="1.0"/>
<line x1="237.79" y1="427.8" x2="237.79" y2="429.4" stroke="#2a2a2a" stroke-width="0.8"/>
<line x1="239.11" y1="427.8" x2="239.11" y2="429.4" stroke="#2a2a2a" stroke-width="0.8"/>
<line x1="240.05" y1="427.8" x2="240.05" y2="429.4" stroke="#2a2a2a" stroke-width="0.8"/>
<line x1="240.78" y1="427.8" x2="240.78" y2="429.4" stroke="#2a2a2a" stroke-width="0.8"/>
<line x1="241.38" y1="427.8" x2="241.38" y2="429.4" stroke="#2a2a2a" stroke-width="0.8"/>
<line x1="241.88" y1="427.8" x2="241.88" y2="429.4" stroke="#2a2a2a" stroke-width="0.8"/>
<line x1="242.32" y1="427.8" x2="242.32" y2="429.4" stroke="#2a2a2a" stroke-width="0.8"/>
<line x1="242.71" y1="427.8" x2="242.71" y2="429.4" stroke="#2a2a2a" stroke-width="0.8"/>
<line x1="243.05" y1="427.8" x2="243.05" y2="430.4" stroke="#2a2a2a" stroke-width="1.0"/>
<line x1="245.32" y1="427.8" x2="245.32" y2="429.4" stroke="#2a2a2a" stroke-width="0.8"/>
<line x1="246.64" y1="427.8" x2="246.64" y2="429.4" stroke="#2a2a2a" stroke-width="0.8"/>
<line x1="247.58" y1="427.8" x2="247.58" y2="429.4" stroke="#2a2a2a" stroke-width="0.8"/>
<line x1="248.31" y1="427.8" x2="248.31" y2="429.4" stroke="#2a2a2a" stroke-width="0.8"/>
<line x1="248.91" y1="427.8" x2="248.91" y2="429.4" stroke="#2a2a2a" stroke-width="0.8"/>
<line x1="249.41" y1="427.8" x2="249.41" y2="429.4" stroke="#2a2a2a" stroke-width="0.8"/>
<line x1="249.85" y1="427.8" x2="249.85" y2="429.4" stroke="#2a2a2a" stroke-width="0.8"/>
<line x1="250.24" y1="427.8" x2="250.24" y2="429.4" stroke="#2a2a2a" stroke-width="0.8"/>
<line x1="250.58" y1="427.8" x2="250.58" y2="430.4" stroke="#2a2a2a" stroke-width="1.0"/>
<line x1="252.85" y1="427.8" x2="252.85" y2="429.4" stroke="#2a2a2a" stroke-width="0.8"/>
<line x1="254.17" y1="427.8" x2="254.17" y2="429.4" stroke="#2a2a2a" stroke-width="0.8"/>
<line x1="255.11" y1="427.8" x2="255.11" y2="429.4" stroke="#2a2a2a" stroke-width="0.8"/>
<line x1="255.84" y1="427.8" x2="255.84" y2="429.4" stroke="#2a2a2a" stroke-width="0.8"/>
<line x1="256.44" y1="427.8" x2="256.44" y2="429.4" stroke="#2a2a2a" stroke-width="0.8"/>
<line x1="256.94" y1="427.8" x2="256.94" y2="429.4" stroke="#2a2a2a" stroke-width="0.8"/>
<line x1="257.38" y1="427.8" x2="257.38" y2="429.4" stroke="#2a2a2a" stroke-width="0.8"/>
<line x1="257.77" y1="427.8" x2="257.77" y2="429.4" stroke="#2a2a2a" stroke-width="0.8"/>
<line x1="258.11" y1="427.8" x2="258.11" y2="430.4" stroke="#2a2a2a" stroke-width="1.0"/>
<text x="205.40" y="439.6" font-size="6.3" text-anchor="middle" fill="#2a2a2a" stroke="#2a2a2a" stroke-width="0.12">10<tspan dy="-2.6" font-size="4.6">0</tspan></text>
<text x="220.46" y="439.6" font-size="6.3" text-anchor="middle" fill="#2a2a2a" stroke="#2a2a2a" stroke-width="0.12">10<tspan dy="-2.6" font-size="4.6">2</tspan></text>
<text x="235.52" y="439.6" font-size="6.3" text-anchor="middle" fill="#2a2a2a" stroke="#2a2a2a" stroke-width="0.12">10<tspan dy="-2.6" font-size="4.6">4</tspan></text>
<text x="250.58" y="439.6" font-size="6.3" text-anchor="middle" fill="#2a2a2a" stroke="#2a2a2a" stroke-width="0.12">10<tspan dy="-2.6" font-size="4.6">6</tspan></text>
<path d="M206.00 427.60 C207.67 427.58 213.72 427.53 216.00 427.50 C218.28 427.47 218.58 427.70 219.70 427.40 C220.82 427.10 221.80 426.88 222.70 425.70 C223.60 424.52 224.50 422.60 225.10 420.30 C225.70 418.00 225.93 414.92 226.30 411.90 C226.67 408.88 227.00 404.92 227.30 402.20 C227.60 399.48 227.77 396.40 228.10 395.60 C228.43 394.80 228.90 395.90 229.30 397.40 C229.70 398.90 230.10 402.18 230.50 404.60 C230.90 407.02 231.18 409.68 231.70 411.90 C232.22 414.12 232.88 416.10 233.60 417.90 C234.32 419.70 235.20 421.30 236.00 422.70 C236.80 424.10 237.60 425.52 238.40 426.30 C239.20 427.08 239.87 427.18 240.80 427.40 C241.73 427.62 240.80 427.57 244.00 427.60 C247.20 427.63 257.33 427.60 260.00 427.60" fill="none" stroke="#b01840" stroke-width="1.05" stroke-linejoin="round"/>
<path d="M206.00 427.60 C207.27 427.58 211.73 427.72 213.60 427.50 C215.47 427.28 216.08 427.10 217.20 426.30 C218.32 425.50 219.43 424.70 220.30 422.70 C221.17 420.70 221.85 417.72 222.40 414.30 C222.95 410.88 223.22 406.25 223.60 402.20 C223.98 398.15 224.35 394.27 224.70 390.00 C225.05 385.73 225.37 376.60 225.70 376.60 C226.03 376.60 226.40 385.73 226.70 390.00 C227.00 394.27 227.27 398.15 227.50 402.20 C227.73 406.25 227.83 410.88 228.10 414.30 C228.37 417.72 228.60 420.80 229.10 422.70 C229.60 424.60 230.25 424.98 231.10 425.70 C231.95 426.42 233.08 426.70 234.20 427.00 C235.32 427.30 236.00 427.40 237.80 427.50 C239.60 427.60 241.30 427.58 245.00 427.60 C248.70 427.62 257.50 427.60 260.00 427.60" fill="none" stroke="#6fc3f0" stroke-width="1.05" stroke-linejoin="round"/>
<path d="M206.00 427.60 C207.17 427.58 211.23 427.72 213.00 427.50 C214.77 427.28 215.48 427.10 216.60 426.30 C217.72 425.50 218.83 424.70 219.70 422.70 C220.57 420.70 221.25 417.72 221.80 414.30 C222.35 410.88 222.58 406.25 223.00 402.20 C223.42 398.15 223.92 393.93 224.30 390.00 C224.68 386.07 224.97 378.60 225.30 378.60 C225.63 378.60 226.00 386.07 226.30 390.00 C226.60 393.93 226.85 398.15 227.10 402.20 C227.35 406.25 227.53 410.88 227.80 414.30 C228.07 417.72 228.25 420.58 228.70 422.70 C229.15 424.82 229.62 426.18 230.50 427.00 C231.38 427.82 229.08 427.50 234.00 427.60 C238.92 427.70 255.67 427.60 260.00 427.60" fill="none" stroke="#ec9a2c" stroke-width="1.05" stroke-linejoin="round"/>
<rect x="205.4" y="373.4" width="54.9" height="54.4" fill="none" stroke="#1a1a1a" stroke-width="1.1"/>
<line x1="205.75" y1="374.5" x2="205.75" y2="427.5" stroke="#ec9a2c" stroke-width="0.9"/>
<line x1="228.6" y1="414.3" x2="255.2" y2="414.3" stroke="#1a1a1a" stroke-width="1.1"/>
<line x1="228.6" y1="412.9" x2="228.6" y2="415.7" stroke="#1a1a1a" stroke-width="0.9"/>
<line x1="255.2" y1="412.9" x2="255.2" y2="415.7" stroke="#1a1a1a" stroke-width="0.9"/>
<text x="243.65" y="405.9" font-size="5.7" text-anchor="middle" fill="#1a1a1a" stroke="#1a1a1a" stroke-width="0.12" textLength="11" lengthAdjust="spacingAndGlyphs">44.6</text>
<line x1="41.1" y1="444.7" x2="264" y2="444.7" stroke="#1a1a1a" stroke-width="1.2"/>
<path d="M262.2 441.6L269.8 444.7L262.2 447.8Z" fill="#1a1a1a"/>
<text x="42.6" y="455.7" font-size="9.0" text-anchor="start" fill="#2a2a2a" stroke="#2a2a2a" stroke-width="0.18" textLength="25.6" lengthAdjust="spacingAndGlyphs">CD107a</text>
<line x1="60" y1="470" x2="68" y2="470" stroke="#ec9a2c" stroke-width="0.9"/>
<text x="71.8" y="472.4" font-size="6.5" text-anchor="start" fill="#1a1a1a" stroke="#1a1a1a" stroke-width="0.1" textLength="47" lengthAdjust="spacingAndGlyphs">Ctrl (no targets)</text>
<line x1="128.3" y1="470" x2="136.3" y2="470" stroke="#b01840" stroke-width="0.9"/>
<text x="139.8" y="472.4" font-size="6.5" text-anchor="start" fill="#1a1a1a" stroke="#1a1a1a" stroke-width="0.1" textLength="17.8" lengthAdjust="spacingAndGlyphs">THP-1</text>
<line x1="168" y1="470" x2="176" y2="470" stroke="#5aaee6" stroke-width="0.9"/>
<text x="178.8" y="472.4" font-size="6.5" text-anchor="start" fill="#1a1a1a" stroke="#1a1a1a" stroke-width="0.1" textLength="15.4" lengthAdjust="spacingAndGlyphs">K562</text>
<text transform="translate(310.39,205.50) scale(1.03,1)" x="0" y="0" font-size="12.4" font-weight="bold" fill="#000" stroke="#000" stroke-width="0.45">H</text>
<text transform="translate(413.10,205.50) scale(1.02,1)" x="0" y="0" font-size="12.4" font-weight="bold" fill="#000" stroke="#000" stroke-width="0.45">I</text>
<text transform="translate(310.87,307.30) scale(0.82,1)" x="0" y="0" font-size="12.4" font-weight="bold" fill="#000" stroke="#000" stroke-width="0.45">J</text>
<text transform="translate(413.17,306.90) scale(0.94,1)" x="0" y="0" font-size="12.4" font-weight="bold" fill="#000" stroke="#000" stroke-width="0.45">K</text>
<text x="370.25" y="216.9" font-size="6.6" text-anchor="middle" fill="#1a1a1a" stroke="#1a1a1a" stroke-width="0.1" textLength="14.8" lengthAdjust="spacingAndGlyphs">K562</text>
<line x1="337.3" y1="280.6" x2="340.7" y2="280.6" stroke="#2a2a2a" stroke-width="0.9"/>
<text x="334.7" y="282.9" font-size="6.5" text-anchor="end" fill="#1e1e1e" stroke="#1e1e1e" stroke-width="0.28">0</text>
<line x1="337.3" y1="263.5" x2="340.7" y2="263.5" stroke="#2a2a2a" stroke-width="0.9"/>
<text x="334.7" y="265.8" font-size="6.5" text-anchor="end" fill="#1e1e1e" stroke="#1e1e1e" stroke-width="0.28">100</text>
<line x1="337.3" y1="246.2" x2="340.7" y2="246.2" stroke="#2a2a2a" stroke-width="0.9"/>
<text x="334.7" y="248.5" font-size="6.5" text-anchor="end" fill="#1e1e1e" stroke="#1e1e1e" stroke-width="0.28">200</text>
<line x1="337.3" y1="228.8" x2="340.7" y2="228.8" stroke="#2a2a2a" stroke-width="0.9"/>
<text x="334.7" y="231.1" font-size="6.5" text-anchor="end" fill="#1e1e1e" stroke="#1e1e1e" stroke-width="0.28">300</text>
<line x1="338.9" y1="280.6" x2="340.7" y2="280.6" stroke="#2a2a2a" stroke-width="0.6"/>
<line x1="338.9" y1="276.33" x2="340.7" y2="276.33" stroke="#2a2a2a" stroke-width="0.6"/>
<line x1="338.9" y1="272.05" x2="340.7" y2="272.05" stroke="#2a2a2a" stroke-width="0.6"/>
<line x1="338.9" y1="267.78" x2="340.7" y2="267.78" stroke="#2a2a2a" stroke-width="0.6"/>
<line x1="338.9" y1="263.5" x2="340.7" y2="263.5" stroke="#2a2a2a" stroke-width="0.6"/>
<line x1="338.9" y1="259.23" x2="340.7" y2="259.23" stroke="#2a2a2a" stroke-width="0.6"/>
<line x1="338.9" y1="254.95" x2="340.7" y2="254.95" stroke="#2a2a2a" stroke-width="0.6"/>
<line x1="338.9" y1="250.68" x2="340.7" y2="250.68" stroke="#2a2a2a" stroke-width="0.6"/>
<line x1="338.9" y1="246.4" x2="340.7" y2="246.4" stroke="#2a2a2a" stroke-width="0.6"/>
<line x1="338.9" y1="242.13" x2="340.7" y2="242.13" stroke="#2a2a2a" stroke-width="0.6"/>
<line x1="338.9" y1="237.85" x2="340.7" y2="237.85" stroke="#2a2a2a" stroke-width="0.6"/>
<line x1="338.9" y1="233.58" x2="340.7" y2="233.58" stroke="#2a2a2a" stroke-width="0.6"/>
<line x1="338.9" y1="229.3" x2="340.7" y2="229.3" stroke="#2a2a2a" stroke-width="0.6"/>
<line x1="338.9" y1="225.03" x2="340.7" y2="225.03" stroke="#2a2a2a" stroke-width="0.6"/>
<line x1="340.3" y1="280.2" x2="340.3" y2="282.8" stroke="#2a2a2a" stroke-width="1.0"/>
<line x1="345.15" y1="280.2" x2="345.15" y2="281.7" stroke="#2a2a2a" stroke-width="0.75"/>
<line x1="347.98" y1="280.2" x2="347.98" y2="281.7" stroke="#2a2a2a" stroke-width="0.75"/>
<line x1="349.99" y1="280.2" x2="349.99" y2="281.7" stroke="#2a2a2a" stroke-width="0.75"/>
<line x1="351.55" y1="280.2" x2="351.55" y2="281.7" stroke="#2a2a2a" stroke-width="0.75"/>
<line x1="352.83" y1="280.2" x2="352.83" y2="281.7" stroke="#2a2a2a" stroke-width="0.75"/>
<line x1="353.91" y1="280.2" x2="353.91" y2="281.7" stroke="#2a2a2a" stroke-width="0.75"/>
<line x1="354.84" y1="280.2" x2="354.84" y2="281.7" stroke="#2a2a2a" stroke-width="0.75"/>
<line x1="355.66" y1="280.2" x2="355.66" y2="281.7" stroke="#2a2a2a" stroke-width="0.75"/>
<line x1="356.4" y1="280.2" x2="356.4" y2="282.8" stroke="#2a2a2a" stroke-width="1.0"/>
<line x1="361.25" y1="280.2" x2="361.25" y2="281.7" stroke="#2a2a2a" stroke-width="0.75"/>
<line x1="364.08" y1="280.2" x2="364.08" y2="281.7" stroke="#2a2a2a" stroke-width="0.75"/>
<line x1="366.09" y1="280.2" x2="366.09" y2="281.7" stroke="#2a2a2a" stroke-width="0.75"/>
<line x1="367.65" y1="280.2" x2="367.65" y2="281.7" stroke="#2a2a2a" stroke-width="0.75"/>
<line x1="368.93" y1="280.2" x2="368.93" y2="281.7" stroke="#2a2a2a" stroke-width="0.75"/>
<line x1="370.01" y1="280.2" x2="370.01" y2="281.7" stroke="#2a2a2a" stroke-width="0.75"/>
<line x1="370.94" y1="280.2" x2="370.94" y2="281.7" stroke="#2a2a2a" stroke-width="0.75"/>
<line x1="371.76" y1="280.2" x2="371.76" y2="281.7" stroke="#2a2a2a" stroke-width="0.75"/>
<line x1="372.5" y1="280.2" x2="372.5" y2="282.8" stroke="#2a2a2a" stroke-width="1.0"/>
<line x1="377.35" y1="280.2" x2="377.35" y2="281.7" stroke="#2a2a2a" stroke-width="0.75"/>
<line x1="380.18" y1="280.2" x2="380.18" y2="281.7" stroke="#2a2a2a" stroke-width="0.75"/>
<line x1="382.19" y1="280.2" x2="382.19" y2="281.7" stroke="#2a2a2a" stroke-width="0.75"/>
<line x1="383.75" y1="280.2" x2="383.75" y2="281.7" stroke="#2a2a2a" stroke-width="0.75"/>
<line x1="385.03" y1="280.2" x2="385.03" y2="281.7" stroke="#2a2a2a" stroke-width="0.75"/>
<line x1="386.11" y1="280.2" x2="386.11" y2="281.7" stroke="#2a2a2a" stroke-width="0.75"/>
<line x1="387.04" y1="280.2" x2="387.04" y2="281.7" stroke="#2a2a2a" stroke-width="0.75"/>
<line x1="387.86" y1="280.2" x2="387.86" y2="281.7" stroke="#2a2a2a" stroke-width="0.75"/>
<line x1="388.6" y1="280.2" x2="388.6" y2="282.8" stroke="#2a2a2a" stroke-width="1.0"/>
<line x1="393.45" y1="280.2" x2="393.45" y2="281.7" stroke="#2a2a2a" stroke-width="0.75"/>
<line x1="396.28" y1="280.2" x2="396.28" y2="281.7" stroke="#2a2a2a" stroke-width="0.75"/>
<line x1="398.29" y1="280.2" x2="398.29" y2="281.7" stroke="#2a2a2a" stroke-width="0.75"/>
<text x="340.30" y="292.6" font-size="6.3" text-anchor="middle" fill="#2a2a2a" stroke="#2a2a2a" stroke-width="0.12">10<tspan dy="-2.7" font-size="4.6">3</tspan></text>
<text x="356.40" y="292.6" font-size="6.3" text-anchor="middle" fill="#2a2a2a" stroke="#2a2a2a" stroke-width="0.12">10<tspan dy="-2.7" font-size="4.6">4</tspan></text>
<text x="372.50" y="292.6" font-size="6.3" text-anchor="middle" fill="#2a2a2a" stroke="#2a2a2a" stroke-width="0.12">10<tspan dy="-2.7" font-size="4.6">5</tspan></text>
<text x="388.60" y="292.6" font-size="6.3" text-anchor="middle" fill="#2a2a2a" stroke="#2a2a2a" stroke-width="0.12">10<tspan dy="-2.7" font-size="4.6">6</tspan></text>
<path d="M375.5 280.2 L380 279.4 L383 277.9 L385.2 274.9 L386.5 267.8 L387.5 256.8 L388.5 244.8 L389.5 234.8 L390.5 228.9 L391.5 232.3 L392.3 242.3 L393.1 255.8 L393.9 266.3 L394.7 273.5 L395.7 277.9 L397.4 280.2 Z" fill="#e6c6bb" stroke="none"/>
<path d="M375.5 280.2 L380 279.4 L383 277.9 L385.2 274.9 L386.5 267.8 L387.5 256.8 L388.5 244.8 L389.5 234.8 L390.5 228.9 L391.5 232.3 L392.3 242.3 L393.1 255.8 L393.9 266.3 L394.7 273.5 L395.7 277.9 L397.4 280.2" fill="none" stroke="#b01c3c" stroke-width="1.1" stroke-linejoin="round"/>
<rect x="340.7" y="221.4" width="58.4" height="58.8" fill="none" stroke="#1a1a1a" stroke-width="1.1"/>
<line x1="347.3" y1="232.1" x2="384.8" y2="232.1" stroke="#1a1a1a" stroke-width="1.1"/>
<line x1="347.3" y1="230.8" x2="347.3" y2="233.4" stroke="#1a1a1a" stroke-width="0.9"/>
<line x1="384.8" y1="230.8" x2="384.8" y2="233.4" stroke="#1a1a1a" stroke-width="0.9"/>
<rect x="353.9" y="231.2" width="12.6" height="1.8" fill="#fff" opacity="0.55"/>
<text x="360.2" y="231.5" font-size="6.3" text-anchor="middle" fill="#1a1a1a" stroke="#1a1a1a" stroke-width="0.12" textLength="11.9" lengthAdjust="spacingAndGlyphs">5.19</text>
<text x="458.35" y="217.1" font-size="6.6" text-anchor="middle" fill="#1a1a1a" stroke="#1a1a1a" stroke-width="0.1" textLength="17.4" lengthAdjust="spacingAndGlyphs">THP-1</text>
<line x1="426.0" y1="280.5" x2="429.4" y2="280.5" stroke="#2a2a2a" stroke-width="0.9"/>
<text x="423.4" y="282.8" font-size="6.5" text-anchor="end" fill="#1e1e1e" stroke="#1e1e1e" stroke-width="0.28">0</text>
<line x1="426.0" y1="266.4" x2="429.4" y2="266.4" stroke="#2a2a2a" stroke-width="0.9"/>
<text x="423.4" y="268.7" font-size="6.5" text-anchor="end" fill="#1e1e1e" stroke="#1e1e1e" stroke-width="0.28">50</text>
<line x1="426.0" y1="252.4" x2="429.4" y2="252.4" stroke="#2a2a2a" stroke-width="0.9"/>
<text x="423.4" y="254.7" font-size="6.5" text-anchor="end" fill="#1e1e1e" stroke="#1e1e1e" stroke-width="0.28">100</text>
<line x1="426.0" y1="238.4" x2="429.4" y2="238.4" stroke="#2a2a2a" stroke-width="0.9"/>
<text x="423.4" y="240.7" font-size="6.5" text-anchor="end" fill="#1e1e1e" stroke="#1e1e1e" stroke-width="0.28">150</text>
<line x1="426.0" y1="224.3" x2="429.4" y2="224.3" stroke="#2a2a2a" stroke-width="0.9"/>
<text x="423.4" y="226.6" font-size="6.5" text-anchor="end" fill="#1e1e1e" stroke="#1e1e1e" stroke-width="0.28">200</text>
<line x1="427.6" y1="280.5" x2="429.4" y2="280.5" stroke="#2a2a2a" stroke-width="0.6"/>
<line x1="427.6" y1="276.98" x2="429.4" y2="276.98" stroke="#2a2a2a" stroke-width="0.6"/>
<line x1="427.6" y1="273.45" x2="429.4" y2="273.45" stroke="#2a2a2a" stroke-width="0.6"/>
<line x1="427.6" y1="269.93" x2="429.4" y2="269.93" stroke="#2a2a2a" stroke-width="0.6"/>
<line x1="427.6" y1="266.4" x2="429.4" y2="266.4" stroke="#2a2a2a" stroke-width="0.6"/>
<line x1="427.6" y1="262.88" x2="429.4" y2="262.88" stroke="#2a2a2a" stroke-width="0.6"/>
<line x1="427.6" y1="259.35" x2="429.4" y2="259.35" stroke="#2a2a2a" stroke-width="0.6"/>
<line x1="427.6" y1="255.83" x2="429.4" y2="255.83" stroke="#2a2a2a" stroke-width="0.6"/>
<line x1="427.6" y1="252.3" x2="429.4" y2="252.3" stroke="#2a2a2a" stroke-width="0.6"/>
<line x1="427.6" y1="248.78" x2="429.4" y2="248.78" stroke="#2a2a2a" stroke-width="0.6"/>
<line x1="427.6" y1="245.25" x2="429.4" y2="245.25" stroke="#2a2a2a" stroke-width="0.6"/>
<line x1="427.6" y1="241.73" x2="429.4" y2="241.73" stroke="#2a2a2a" stroke-width="0.6"/>
<line x1="427.6" y1="238.2" x2="429.4" y2="238.2" stroke="#2a2a2a" stroke-width="0.6"/>
<line x1="427.6" y1="234.68" x2="429.4" y2="234.68" stroke="#2a2a2a" stroke-width="0.6"/>
<line x1="427.6" y1="231.15" x2="429.4" y2="231.15" stroke="#2a2a2a" stroke-width="0.6"/>
<line x1="427.6" y1="227.63" x2="429.4" y2="227.63" stroke="#2a2a2a" stroke-width="0.6"/>
<line x1="427.6" y1="224.1" x2="429.4" y2="224.1" stroke="#2a2a2a" stroke-width="0.6"/>
<line x1="429.0" y1="280.2" x2="429.0" y2="282.8" stroke="#2a2a2a" stroke-width="1.0"/>
<line x1="433.85" y1="280.2" x2="433.85" y2="281.7" stroke="#2a2a2a" stroke-width="0.75"/>
<line x1="436.68" y1="280.2" x2="436.68" y2="281.7" stroke="#2a2a2a" stroke-width="0.75"/>
<line x1="438.69" y1="280.2" x2="438.69" y2="281.7" stroke="#2a2a2a" stroke-width="0.75"/>
<line x1="440.25" y1="280.2" x2="440.25" y2="281.7" stroke="#2a2a2a" stroke-width="0.75"/>
<line x1="441.53" y1="280.2" x2="441.53" y2="281.7" stroke="#2a2a2a" stroke-width="0.75"/>
<line x1="442.61" y1="280.2" x2="442.61" y2="281.7" stroke="#2a2a2a" stroke-width="0.75"/>
<line x1="443.54" y1="280.2" x2="443.54" y2="281.7" stroke="#2a2a2a" stroke-width="0.75"/>
<line x1="444.36" y1="280.2" x2="444.36" y2="281.7" stroke="#2a2a2a" stroke-width="0.75"/>
<line x1="445.1" y1="280.2" x2="445.1" y2="282.8" stroke="#2a2a2a" stroke-width="1.0"/>
<line x1="449.95" y1="280.2" x2="449.95" y2="281.7" stroke="#2a2a2a" stroke-width="0.75"/>
<line x1="452.78" y1="280.2" x2="452.78" y2="281.7" stroke="#2a2a2a" stroke-width="0.75"/>
<line x1="454.79" y1="280.2" x2="454.79" y2="281.7" stroke="#2a2a2a" stroke-width="0.75"/>
<line x1="456.35" y1="280.2" x2="456.35" y2="281.7" stroke="#2a2a2a" stroke-width="0.75"/>
<line x1="457.63" y1="280.2" x2="457.63" y2="281.7" stroke="#2a2a2a" stroke-width="0.75"/>
<line x1="458.71" y1="280.2" x2="458.71" y2="281.7" stroke="#2a2a2a" stroke-width="0.75"/>
<line x1="459.64" y1="280.2" x2="459.64" y2="281.7" stroke="#2a2a2a" stroke-width="0.75"/>
<line x1="460.46" y1="280.2" x2="460.46" y2="281.7" stroke="#2a2a2a" stroke-width="0.75"/>
<line x1="461.2" y1="280.2" x2="461.2" y2="282.8" stroke="#2a2a2a" stroke-width="1.0"/>
<line x1="466.05" y1="280.2" x2="466.05" y2="281.7" stroke="#2a2a2a" stroke-width="0.75"/>
<line x1="468.88" y1="280.2" x2="468.88" y2="281.7" stroke="#2a2a2a" stroke-width="0.75"/>
<line x1="470.89" y1="280.2" x2="470.89" y2="281.7" stroke="#2a2a2a" stroke-width="0.75"/>
<line x1="472.45" y1="280.2" x2="472.45" y2="281.7" stroke="#2a2a2a" stroke-width="0.75"/>
<line x1="473.73" y1="280.2" x2="473.73" y2="281.7" stroke="#2a2a2a" stroke-width="0.75"/>
<line x1="474.81" y1="280.2" x2="474.81" y2="281.7" stroke="#2a2a2a" stroke-width="0.75"/>
<line x1="475.74" y1="280.2" x2="475.74" y2="281.7" stroke="#2a2a2a" stroke-width="0.75"/>
<line x1="476.56" y1="280.2" x2="476.56" y2="281.7" stroke="#2a2a2a" stroke-width="0.75"/>
<line x1="477.3" y1="280.2" x2="477.3" y2="282.8" stroke="#2a2a2a" stroke-width="1.0"/>
<line x1="482.15" y1="280.2" x2="482.15" y2="281.7" stroke="#2a2a2a" stroke-width="0.75"/>
<line x1="484.98" y1="280.2" x2="484.98" y2="281.7" stroke="#2a2a2a" stroke-width="0.75"/>
<line x1="486.99" y1="280.2" x2="486.99" y2="281.7" stroke="#2a2a2a" stroke-width="0.75"/>
<text x="429.00" y="292.6" font-size="6.3" text-anchor="middle" fill="#2a2a2a" stroke="#2a2a2a" stroke-width="0.12">10<tspan dy="-2.7" font-size="4.6">3</tspan></text>
<text x="445.10" y="292.6" font-size="6.3" text-anchor="middle" fill="#2a2a2a" stroke="#2a2a2a" stroke-width="0.12">10<tspan dy="-2.7" font-size="4.6">4</tspan></text>
<text x="461.20" y="292.6" font-size="6.3" text-anchor="middle" fill="#2a2a2a" stroke="#2a2a2a" stroke-width="0.12">10<tspan dy="-2.7" font-size="4.6">5</tspan></text>
<text x="477.30" y="292.6" font-size="6.3" text-anchor="middle" fill="#2a2a2a" stroke="#2a2a2a" stroke-width="0.12">10<tspan dy="-2.7" font-size="4.6">6</tspan></text>
<path d="M454.4 280.2 L457.9 273.1 L460 267.5 L461.5 261.1 L462.9 253.3 L463.9 243.4 L465.3 233.3 L466.4 239.2 L467.1 242.7 L468.5 245.6 L469.5 250.5 L470.6 256.2 L472.1 264.6 L473.5 266.8 L474.9 271 L477 270.3 L478.4 270.6 L479.4 273.1 L481.3 280.2 Z" fill="#e6c6bb" stroke="none"/>
<path d="M454.4 280.2 L457.9 273.1 L460 267.5 L461.5 261.1 L462.9 253.3 L463.9 243.4 L465.3 233.3 L466.4 239.2 L467.1 242.7 L468.5 245.6 L469.5 250.5 L470.6 256.2 L472.1 264.6 L473.5 266.8 L474.9 271 L477 270.3 L478.4 270.6 L479.4 273.1 L481.3 280.2" fill="none" stroke="#b01c3c" stroke-width="1.1" stroke-linejoin="round"/>
<rect x="429.4" y="221.4" width="58.4" height="58.8" fill="none" stroke="#1a1a1a" stroke-width="1.1"/>
<line x1="436" y1="232.1" x2="473.5" y2="232.1" stroke="#1a1a1a" stroke-width="1.1"/>
<line x1="436" y1="230.8" x2="436" y2="233.4" stroke="#1a1a1a" stroke-width="0.9"/>
<line x1="473.5" y1="230.8" x2="473.5" y2="233.4" stroke="#1a1a1a" stroke-width="0.9"/>
<rect x="443.7" y="231.2" width="11.2" height="1.8" fill="#fff" opacity="0.55"/>
<text x="449.3" y="231.5" font-size="6.3" text-anchor="middle" fill="#1a1a1a" stroke="#1a1a1a" stroke-width="0.12" textLength="10.5" lengthAdjust="spacingAndGlyphs">85.1</text>
<line x1="337.3" y1="372.1" x2="340.7" y2="372.1" stroke="#2a2a2a" stroke-width="0.9"/>
<text x="334.7" y="374.4" font-size="6.5" text-anchor="end" fill="#1e1e1e" stroke="#1e1e1e" stroke-width="0.28">0</text>
<line x1="337.3" y1="354.5" x2="340.7" y2="354.5" stroke="#2a2a2a" stroke-width="0.9"/>
<text x="334.7" y="356.8" font-size="6.5" text-anchor="end" fill="#1e1e1e" stroke="#1e1e1e" stroke-width="0.28">100</text>
<line x1="337.3" y1="336.8" x2="340.7" y2="336.8" stroke="#2a2a2a" stroke-width="0.9"/>
<text x="334.7" y="339.1" font-size="6.5" text-anchor="end" fill="#1e1e1e" stroke="#1e1e1e" stroke-width="0.28">200</text>
<line x1="337.3" y1="319.2" x2="340.7" y2="319.2" stroke="#2a2a2a" stroke-width="0.9"/>
<text x="334.7" y="321.5" font-size="6.5" text-anchor="end" fill="#1e1e1e" stroke="#1e1e1e" stroke-width="0.28">300</text>
<line x1="338.9" y1="372.1" x2="340.7" y2="372.1" stroke="#2a2a2a" stroke-width="0.6"/>
<line x1="338.9" y1="367.7" x2="340.7" y2="367.7" stroke="#2a2a2a" stroke-width="0.6"/>
<line x1="338.9" y1="363.3" x2="340.7" y2="363.3" stroke="#2a2a2a" stroke-width="0.6"/>
<line x1="338.9" y1="358.9" x2="340.7" y2="358.9" stroke="#2a2a2a" stroke-width="0.6"/>
<line x1="338.9" y1="354.5" x2="340.7" y2="354.5" stroke="#2a2a2a" stroke-width="0.6"/>
<line x1="338.9" y1="350.1" x2="340.7" y2="350.1" stroke="#2a2a2a" stroke-width="0.6"/>
<line x1="338.9" y1="345.7" x2="340.7" y2="345.7" stroke="#2a2a2a" stroke-width="0.6"/>
<line x1="338.9" y1="341.3" x2="340.7" y2="341.3" stroke="#2a2a2a" stroke-width="0.6"/>
<line x1="338.9" y1="336.9" x2="340.7" y2="336.9" stroke="#2a2a2a" stroke-width="0.6"/>
<line x1="338.9" y1="332.5" x2="340.7" y2="332.5" stroke="#2a2a2a" stroke-width="0.6"/>
<line x1="338.9" y1="328.1" x2="340.7" y2="328.1" stroke="#2a2a2a" stroke-width="0.6"/>
<line x1="338.9" y1="323.7" x2="340.7" y2="323.7" stroke="#2a2a2a" stroke-width="0.6"/>
<line x1="338.9" y1="319.3" x2="340.7" y2="319.3" stroke="#2a2a2a" stroke-width="0.6"/>
<line x1="338.9" y1="314.9" x2="340.7" y2="314.9" stroke="#2a2a2a" stroke-width="0.6"/>
<line x1="340.3" y1="372.1" x2="340.3" y2="374.7" stroke="#2a2a2a" stroke-width="1.0"/>
<line x1="345.15" y1="372.1" x2="345.15" y2="373.6" stroke="#2a2a2a" stroke-width="0.75"/>
<line x1="347.98" y1="372.1" x2="347.98" y2="373.6" stroke="#2a2a2a" stroke-width="0.75"/>
<line x1="349.99" y1="372.1" x2="349.99" y2="373.6" stroke="#2a2a2a" stroke-width="0.75"/>
<line x1="351.55" y1="372.1" x2="351.55" y2="373.6" stroke="#2a2a2a" stroke-width="0.75"/>
<line x1="352.83" y1="372.1" x2="352.83" y2="373.6" stroke="#2a2a2a" stroke-width="0.75"/>
<line x1="353.91" y1="372.1" x2="353.91" y2="373.6" stroke="#2a2a2a" stroke-width="0.75"/>
<line x1="354.84" y1="372.1" x2="354.84" y2="373.6" stroke="#2a2a2a" stroke-width="0.75"/>
<line x1="355.66" y1="372.1" x2="355.66" y2="373.6" stroke="#2a2a2a" stroke-width="0.75"/>
<line x1="356.4" y1="372.1" x2="356.4" y2="374.7" stroke="#2a2a2a" stroke-width="1.0"/>
<line x1="361.25" y1="372.1" x2="361.25" y2="373.6" stroke="#2a2a2a" stroke-width="0.75"/>
<line x1="364.08" y1="372.1" x2="364.08" y2="373.6" stroke="#2a2a2a" stroke-width="0.75"/>
<line x1="366.09" y1="372.1" x2="366.09" y2="373.6" stroke="#2a2a2a" stroke-width="0.75"/>
<line x1="367.65" y1="372.1" x2="367.65" y2="373.6" stroke="#2a2a2a" stroke-width="0.75"/>
<line x1="368.93" y1="372.1" x2="368.93" y2="373.6" stroke="#2a2a2a" stroke-width="0.75"/>
<line x1="370.01" y1="372.1" x2="370.01" y2="373.6" stroke="#2a2a2a" stroke-width="0.75"/>
<line x1="370.94" y1="372.1" x2="370.94" y2="373.6" stroke="#2a2a2a" stroke-width="0.75"/>
<line x1="371.76" y1="372.1" x2="371.76" y2="373.6" stroke="#2a2a2a" stroke-width="0.75"/>
<line x1="372.5" y1="372.1" x2="372.5" y2="374.7" stroke="#2a2a2a" stroke-width="1.0"/>
<line x1="377.35" y1="372.1" x2="377.35" y2="373.6" stroke="#2a2a2a" stroke-width="0.75"/>
<line x1="380.18" y1="372.1" x2="380.18" y2="373.6" stroke="#2a2a2a" stroke-width="0.75"/>
<line x1="382.19" y1="372.1" x2="382.19" y2="373.6" stroke="#2a2a2a" stroke-width="0.75"/>
<line x1="383.75" y1="372.1" x2="383.75" y2="373.6" stroke="#2a2a2a" stroke-width="0.75"/>
<line x1="385.03" y1="372.1" x2="385.03" y2="373.6" stroke="#2a2a2a" stroke-width="0.75"/>
<line x1="386.11" y1="372.1" x2="386.11" y2="373.6" stroke="#2a2a2a" stroke-width="0.75"/>
<line x1="387.04" y1="372.1" x2="387.04" y2="373.6" stroke="#2a2a2a" stroke-width="0.75"/>
<line x1="387.86" y1="372.1" x2="387.86" y2="373.6" stroke="#2a2a2a" stroke-width="0.75"/>
<line x1="388.6" y1="372.1" x2="388.6" y2="374.7" stroke="#2a2a2a" stroke-width="1.0"/>
<line x1="393.45" y1="372.1" x2="393.45" y2="373.6" stroke="#2a2a2a" stroke-width="0.75"/>
<line x1="396.28" y1="372.1" x2="396.28" y2="373.6" stroke="#2a2a2a" stroke-width="0.75"/>
<line x1="398.29" y1="372.1" x2="398.29" y2="373.6" stroke="#2a2a2a" stroke-width="0.75"/>
<text x="340.30" y="383.5" font-size="6.3" text-anchor="middle" fill="#2a2a2a" stroke="#2a2a2a" stroke-width="0.12">10<tspan dy="-2.7" font-size="4.6">3</tspan></text>
<text x="356.40" y="383.5" font-size="6.3" text-anchor="middle" fill="#2a2a2a" stroke="#2a2a2a" stroke-width="0.12">10<tspan dy="-2.7" font-size="4.6">4</tspan></text>
<text x="372.50" y="383.5" font-size="6.3" text-anchor="middle" fill="#2a2a2a" stroke="#2a2a2a" stroke-width="0.12">10<tspan dy="-2.7" font-size="4.6">5</tspan></text>
<text x="388.60" y="383.5" font-size="6.3" text-anchor="middle" fill="#2a2a2a" stroke="#2a2a2a" stroke-width="0.12">10<tspan dy="-2.7" font-size="4.6">6</tspan></text>
<path d="M375.5 371.9 L380 371.1 L383 369.6 L385.2 366.6 L386.5 359.5 L387.5 348.5 L388.5 336.5 L389.5 326.5 L390.5 320.6 L391.5 324 L392.3 334 L393.1 347.5 L393.9 358 L394.7 365.2 L395.7 369.6 L397.4 371.9 Z" fill="#e6c6bb" stroke="none"/>
<path d="M375.5 371.9 L380 371.1 L383 369.6 L385.2 366.6 L386.5 359.5 L387.5 348.5 L388.5 336.5 L389.5 326.5 L390.5 320.6 L391.5 324 L392.3 334 L393.1 347.5 L393.9 358 L394.7 365.2 L395.7 369.6 L397.4 371.9" fill="none" stroke="#b01c3c" stroke-width="1.1" stroke-linejoin="round"/>
<rect x="340.7" y="313.3" width="58.4" height="58.8" fill="none" stroke="#1a1a1a" stroke-width="1.1"/>
<line x1="347.3" y1="323.8" x2="384.6" y2="323.8" stroke="#1a1a1a" stroke-width="1.1"/>
<line x1="347.3" y1="322.5" x2="347.3" y2="325.1" stroke="#1a1a1a" stroke-width="0.9"/>
<line x1="384.6" y1="322.5" x2="384.6" y2="325.1" stroke="#1a1a1a" stroke-width="0.9"/>
<rect x="354.6" y="322.9" width="11.9" height="1.8" fill="#fff" opacity="0.55"/>
<text x="360.55" y="323.2" font-size="6.3" text-anchor="middle" fill="#1a1a1a" stroke="#1a1a1a" stroke-width="0.12" textLength="11.2" lengthAdjust="spacingAndGlyphs">5.46</text>
<line x1="426.0" y1="372.0" x2="429.4" y2="372.0" stroke="#2a2a2a" stroke-width="0.9"/>
<text x="423.4" y="374.3" font-size="6.5" text-anchor="end" fill="#1e1e1e" stroke="#1e1e1e" stroke-width="0.28">0</text>
<line x1="426.0" y1="359.3" x2="429.4" y2="359.3" stroke="#2a2a2a" stroke-width="0.9"/>
<text x="423.4" y="361.6" font-size="6.5" text-anchor="end" fill="#1e1e1e" stroke="#1e1e1e" stroke-width="0.28">30</text>
<line x1="426.0" y1="346.8" x2="429.4" y2="346.8" stroke="#2a2a2a" stroke-width="0.9"/>
<text x="423.4" y="349.1" font-size="6.5" text-anchor="end" fill="#1e1e1e" stroke="#1e1e1e" stroke-width="0.28">60</text>
<line x1="426.0" y1="333.9" x2="429.4" y2="333.9" stroke="#2a2a2a" stroke-width="0.9"/>
<text x="423.4" y="336.2" font-size="6.5" text-anchor="end" fill="#1e1e1e" stroke="#1e1e1e" stroke-width="0.28">90</text>
<line x1="426.0" y1="320.8" x2="429.4" y2="320.8" stroke="#2a2a2a" stroke-width="0.9"/>
<text x="423.4" y="323.1" font-size="6.5" text-anchor="end" fill="#1e1e1e" stroke="#1e1e1e" stroke-width="0.28">120</text>
<line x1="427.6" y1="372.0" x2="429.4" y2="372.0" stroke="#2a2a2a" stroke-width="0.6"/>
<line x1="427.6" y1="368.82" x2="429.4" y2="368.82" stroke="#2a2a2a" stroke-width="0.6"/>
<line x1="427.6" y1="365.65" x2="429.4" y2="365.65" stroke="#2a2a2a" stroke-width="0.6"/>
<line x1="427.6" y1="362.47" x2="429.4" y2="362.47" stroke="#2a2a2a" stroke-width="0.6"/>
<line x1="427.6" y1="359.3" x2="429.4" y2="359.3" stroke="#2a2a2a" stroke-width="0.6"/>
<line x1="427.6" y1="356.12" x2="429.4" y2="356.12" stroke="#2a2a2a" stroke-width="0.6"/>
<line x1="427.6" y1="352.95" x2="429.4" y2="352.95" stroke="#2a2a2a" stroke-width="0.6"/>
<line x1="427.6" y1="349.77" x2="429.4" y2="349.77" stroke="#2a2a2a" stroke-width="0.6"/>
<line x1="427.6" y1="346.6" x2="429.4" y2="346.6" stroke="#2a2a2a" stroke-width="0.6"/>
<line x1="427.6" y1="343.42" x2="429.4" y2="343.42" stroke="#2a2a2a" stroke-width="0.6"/>
<line x1="427.6" y1="340.25" x2="429.4" y2="340.25" stroke="#2a2a2a" stroke-width="0.6"/>
<line x1="427.6" y1="337.07" x2="429.4" y2="337.07" stroke="#2a2a2a" stroke-width="0.6"/>
<line x1="427.6" y1="333.9" x2="429.4" y2="333.9" stroke="#2a2a2a" stroke-width="0.6"/>
<line x1="427.6" y1="330.72" x2="429.4" y2="330.72" stroke="#2a2a2a" stroke-width="0.6"/>
<line x1="427.6" y1="327.55" x2="429.4" y2="327.55" stroke="#2a2a2a" stroke-width="0.6"/>
<line x1="427.6" y1="324.37" x2="429.4" y2="324.37" stroke="#2a2a2a" stroke-width="0.6"/>
<line x1="427.6" y1="321.2" x2="429.4" y2="321.2" stroke="#2a2a2a" stroke-width="0.6"/>
<line x1="427.6" y1="318.02" x2="429.4" y2="318.02" stroke="#2a2a2a" stroke-width="0.6"/>
<line x1="427.6" y1="314.85" x2="429.4" y2="314.85" stroke="#2a2a2a" stroke-width="0.6"/>
<line x1="429.0" y1="372.1" x2="429.0" y2="374.7" stroke="#2a2a2a" stroke-width="1.0"/>
<line x1="433.85" y1="372.1" x2="433.85" y2="373.6" stroke="#2a2a2a" stroke-width="0.75"/>
<line x1="436.68" y1="372.1" x2="436.68" y2="373.6" stroke="#2a2a2a" stroke-width="0.75"/>
<line x1="438.69" y1="372.1" x2="438.69" y2="373.6" stroke="#2a2a2a" stroke-width="0.75"/>
<line x1="440.25" y1="372.1" x2="440.25" y2="373.6" stroke="#2a2a2a" stroke-width="0.75"/>
<line x1="441.53" y1="372.1" x2="441.53" y2="373.6" stroke="#2a2a2a" stroke-width="0.75"/>
<line x1="442.61" y1="372.1" x2="442.61" y2="373.6" stroke="#2a2a2a" stroke-width="0.75"/>
<line x1="443.54" y1="372.1" x2="443.54" y2="373.6" stroke="#2a2a2a" stroke-width="0.75"/>
<line x1="444.36" y1="372.1" x2="444.36" y2="373.6" stroke="#2a2a2a" stroke-width="0.75"/>
<line x1="445.1" y1="372.1" x2="445.1" y2="374.7" stroke="#2a2a2a" stroke-width="1.0"/>
<line x1="449.95" y1="372.1" x2="449.95" y2="373.6" stroke="#2a2a2a" stroke-width="0.75"/>
<line x1="452.78" y1="372.1" x2="452.78" y2="373.6" stroke="#2a2a2a" stroke-width="0.75"/>
<line x1="454.79" y1="372.1" x2="454.79" y2="373.6" stroke="#2a2a2a" stroke-width="0.75"/>
<line x1="456.35" y1="372.1" x2="456.35" y2="373.6" stroke="#2a2a2a" stroke-width="0.75"/>
<line x1="457.63" y1="372.1" x2="457.63" y2="373.6" stroke="#2a2a2a" stroke-width="0.75"/>
<line x1="458.71" y1="372.1" x2="458.71" y2="373.6" stroke="#2a2a2a" stroke-width="0.75"/>
<line x1="459.64" y1="372.1" x2="459.64" y2="373.6" stroke="#2a2a2a" stroke-width="0.75"/>
<line x1="460.46" y1="372.1" x2="460.46" y2="373.6" stroke="#2a2a2a" stroke-width="0.75"/>
<line x1="461.2" y1="372.1" x2="461.2" y2="374.7" stroke="#2a2a2a" stroke-width="1.0"/>
<line x1="466.05" y1="372.1" x2="466.05" y2="373.6" stroke="#2a2a2a" stroke-width="0.75"/>
<line x1="468.88" y1="372.1" x2="468.88" y2="373.6" stroke="#2a2a2a" stroke-width="0.75"/>
<line x1="470.89" y1="372.1" x2="470.89" y2="373.6" stroke="#2a2a2a" stroke-width="0.75"/>
<line x1="472.45" y1="372.1" x2="472.45" y2="373.6" stroke="#2a2a2a" stroke-width="0.75"/>
<line x1="473.73" y1="372.1" x2="473.73" y2="373.6" stroke="#2a2a2a" stroke-width="0.75"/>
<line x1="474.81" y1="372.1" x2="474.81" y2="373.6" stroke="#2a2a2a" stroke-width="0.75"/>
<line x1="475.74" y1="372.1" x2="475.74" y2="373.6" stroke="#2a2a2a" stroke-width="0.75"/>
<line x1="476.56" y1="372.1" x2="476.56" y2="373.6" stroke="#2a2a2a" stroke-width="0.75"/>
<line x1="477.3" y1="372.1" x2="477.3" y2="374.7" stroke="#2a2a2a" stroke-width="1.0"/>
<line x1="482.15" y1="372.1" x2="482.15" y2="373.6" stroke="#2a2a2a" stroke-width="0.75"/>
<line x1="484.98" y1="372.1" x2="484.98" y2="373.6" stroke="#2a2a2a" stroke-width="0.75"/>
<line x1="486.99" y1="372.1" x2="486.99" y2="373.6" stroke="#2a2a2a" stroke-width="0.75"/>
<text x="429.00" y="383.5" font-size="6.3" text-anchor="middle" fill="#2a2a2a" stroke="#2a2a2a" stroke-width="0.12">10<tspan dy="-2.7" font-size="4.6">3</tspan></text>
<text x="445.10" y="383.5" font-size="6.3" text-anchor="middle" fill="#2a2a2a" stroke="#2a2a2a" stroke-width="0.12">10<tspan dy="-2.7" font-size="4.6">4</tspan></text>
<text x="461.20" y="383.5" font-size="6.3" text-anchor="middle" fill="#2a2a2a" stroke="#2a2a2a" stroke-width="0.12">10<tspan dy="-2.7" font-size="4.6">5</tspan></text>
<text x="477.30" y="383.5" font-size="6.3" text-anchor="middle" fill="#2a2a2a" stroke="#2a2a2a" stroke-width="0.12">10<tspan dy="-2.7" font-size="4.6">6</tspan></text>
<path d="M455.1 371.6 L457.9 366 L460 362.4 L461.5 356.8 L462.9 349 L464.3 343.3 L465.3 334.2 L466.1 331.3 L467.1 327.8 L468.5 323.3 L469.5 325 L470.6 326.4 L471.8 328.5 L472.8 325 L473.8 329.2 L474.9 332 L476.3 339.8 L477.4 341.2 L478.4 350.4 L479.8 361.7 L481.3 370.2 L482.7 371.6 Z" fill="#e6c6bb" stroke="none"/>
<path d="M455.1 371.6 L457.9 366 L460 362.4 L461.5 356.8 L462.9 349 L464.3 343.3 L465.3 334.2 L466.1 331.3 L467.1 327.8 L468.5 323.3 L469.5 325 L470.6 326.4 L471.8 328.5 L472.8 325 L473.8 329.2 L474.9 332 L476.3 339.8 L477.4 341.2 L478.4 350.4 L479.8 361.7 L481.3 370.2 L482.7 371.6" fill="none" stroke="#b01c3c" stroke-width="1.1" stroke-linejoin="round"/>
<rect x="429.4" y="313.3" width="58.4" height="58.8" fill="none" stroke="#1a1a1a" stroke-width="1.1"/>
<line x1="436" y1="323.8" x2="473.6" y2="323.8" stroke="#1a1a1a" stroke-width="1.1"/>
<line x1="436" y1="322.5" x2="436" y2="325.1" stroke="#1a1a1a" stroke-width="0.9"/>
<line x1="473.6" y1="322.5" x2="473.6" y2="325.1" stroke="#1a1a1a" stroke-width="0.9"/>
<rect x="444.4" y="322.9" width="11.9" height="1.8" fill="#fff" opacity="0.55"/>
<text x="450.35" y="323.2" font-size="6.3" text-anchor="middle" fill="#1a1a1a" stroke="#1a1a1a" stroke-width="0.12" textLength="11.2" lengthAdjust="spacingAndGlyphs">71.0</text>
<text transform="translate(317.8,251) rotate(-90)" x="0" y="0" font-size="8.9" text-anchor="middle" fill="#222" stroke="#222" stroke-width="0.3" textLength="39.6" lengthAdjust="spacingAndGlyphs">Nb157 CART</text>
<text transform="translate(317.9,342.45) rotate(-90)" x="0" y="0" font-size="8.9" text-anchor="middle" fill="#222" stroke="#222" stroke-width="0.3" textLength="39.1" lengthAdjust="spacingAndGlyphs">Nb163 CART</text>
<line x1="339.1" y1="388.5" x2="488" y2="388.5" stroke="#1a1a1a" stroke-width="1.2"/>
<path d="M486.4 385.4L494 388.5L486.4 391.6Z" fill="#1a1a1a"/>
<text x="338.8" y="399.6" font-size="9.0" text-anchor="start" fill="#2a2a2a" stroke="#2a2a2a" stroke-width="0.18" textLength="27.2" lengthAdjust="spacingAndGlyphs">CellTrace</text>
</svg><div id="frame"></div></div></body></html>
